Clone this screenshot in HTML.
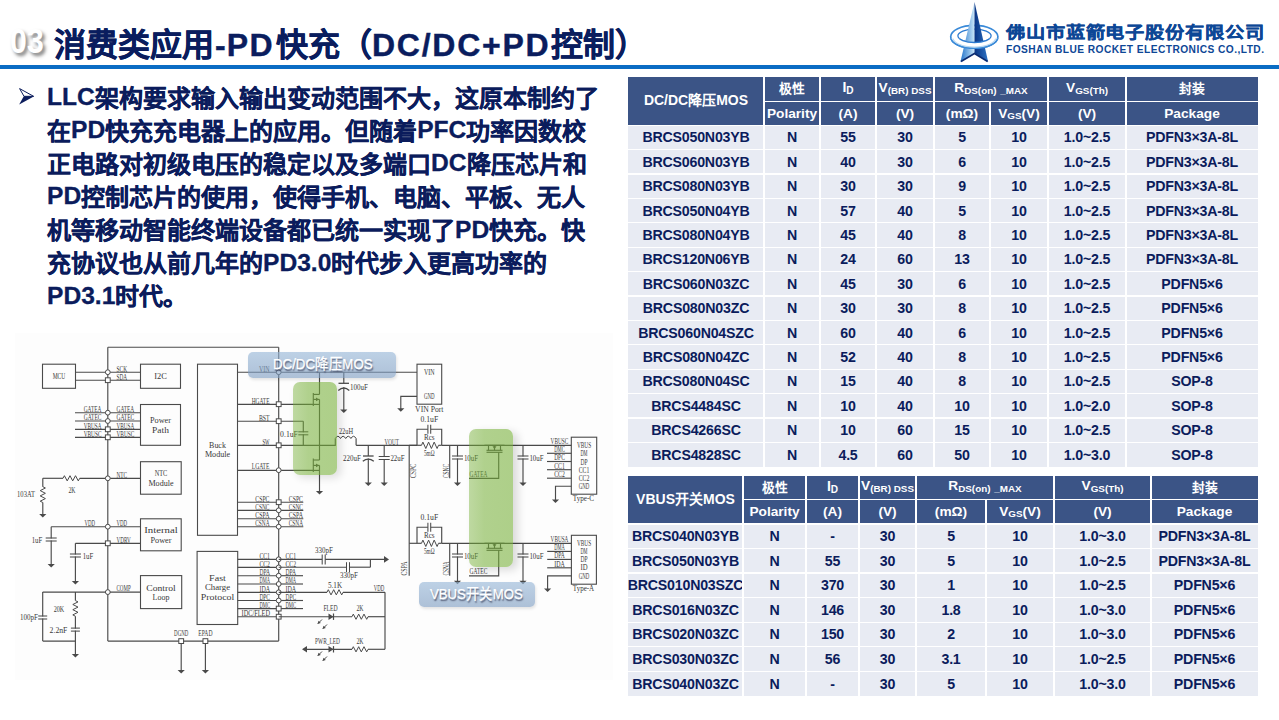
<!DOCTYPE html><html lang="zh-CN"><head><meta charset="utf-8"><style>
html,body{margin:0;padding:0;background:#fff;}
body{width:1279px;height:720px;overflow:hidden;position:relative;font-family:"Liberation Sans",sans-serif;}
.abs{position:absolute;}
.c{position:absolute;box-sizing:border-box;display:flex;align-items:center;justify-content:center;font-weight:bold;white-space:nowrap;}
.h{background:#3b5486;color:#fff;}
.d{background:#e8ebf3;color:#0b1c5c;}
.sub{font-size:0.72em;position:relative;top:0.18em;}
</style></head><body>

<div class="abs" style="left:10px;top:18.5px;font-size:35px;font-weight:bold;color:#fff;letter-spacing:0.3px;text-shadow:3px 3px 4px rgba(0,0,0,0.5);line-height:44px;transform:scaleX(0.86);transform-origin:0 0;">03</div>
<div class="abs" style="left:54.0px;top:23.5px;font-size:32px;font-weight:bold;color:#0a1d5e;line-height:42px;white-space:nowrap;-webkit-text-stroke:0.4px #0a1d5e;letter-spacing:0.00px;">消费类应用</div>
<div class="abs" style="left:215.0px;top:23.5px;font-size:32px;font-weight:bold;color:#0a1d5e;line-height:42px;white-space:nowrap;-webkit-text-stroke:0.4px #0a1d5e;letter-spacing:1.20px;">-PD</div>
<div class="abs" style="left:275.5px;top:23.5px;font-size:32px;font-weight:bold;color:#0a1d5e;line-height:42px;white-space:nowrap;-webkit-text-stroke:0.4px #0a1d5e;letter-spacing:0.00px;">快充（</div>
<div class="abs" style="left:372.0px;top:23.5px;font-size:32px;font-weight:bold;color:#0a1d5e;line-height:42px;white-space:nowrap;-webkit-text-stroke:0.4px #0a1d5e;letter-spacing:1.75px;">DC/DC+PD</div>
<div class="abs" style="left:550.5px;top:23.5px;font-size:32px;font-weight:bold;color:#0a1d5e;line-height:42px;white-space:nowrap;-webkit-text-stroke:0.4px #0a1d5e;letter-spacing:0.00px;">控制）</div>
<div class="abs" style="left:0;top:65px;width:1279px;height:3.5px;background:#0a6cc4;"></div>
<svg class="abs" style="left:0;top:0" width="1279" height="70" viewBox="0 0 1279 70">
<defs>
<linearGradient id="lg1" gradientUnits="userSpaceOnUse" x1="961" x2="974.5" y1="0" y2="0"><stop offset="0" stop-color="#2a78cc"/><stop offset="1" stop-color="#c8e6f8"/></linearGradient>
<linearGradient id="lg2" gradientUnits="userSpaceOnUse" x1="974.5" x2="988" y1="0" y2="0"><stop offset="0" stop-color="#0a3584"/><stop offset="1" stop-color="#2c72c4"/></linearGradient>
<clipPath id="lowc"><rect x="940" y="38.5" width="70" height="20"/></clipPath>
</defs>
<ellipse cx="974.3" cy="36.8" rx="23.6" ry="11.4" fill="#fff" stroke="#3a8ad8" stroke-width="1.7"/>
<ellipse cx="974.5" cy="35.8" rx="16.6" ry="6.7" fill="none" stroke="#2d7bd0" stroke-width="1.3"/>
<polygon points="974.5,2 960.4,62 974.5,53" fill="url(#lg1)"/>
<polygon points="974.5,2 988.2,62 974.5,53" fill="url(#lg2)"/>
<polyline points="961,61.5 974.5,53.5 987.6,61.5" fill="none" stroke="#0a2a70" stroke-width="1.6"/>
<g clip-path="url(#lowc)">
<path d="M950.7,36.8 a23.6,11.4 0 1 0 47.2,0 a23.6,11.4 0 1 0 -47.2,0 Z M957.9,35.8 a16.6,6.7 0 1 0 33.2,0 a16.6,6.7 0 1 0 -33.2,0 Z" fill="#fff" fill-rule="evenodd"/>
<ellipse cx="974.3" cy="36.8" rx="23.6" ry="11.4" fill="none" stroke="#3a8ad8" stroke-width="1.7"/>
<ellipse cx="974.5" cy="35.8" rx="16.6" ry="6.7" fill="none" stroke="#2d7bd0" stroke-width="1.3"/>
<ellipse cx="974.3" cy="37.5" rx="21.5" ry="9.6" fill="none" stroke="#b8d8f2" stroke-width="1.2"/>
</g>
</svg>
<div class="abs" style="left:1005.5px;top:23px;font-size:17px;font-weight:bold;color:#0d4796;letter-spacing:0.6px;line-height:22px;white-space:nowrap;transform:scale(1.13,0.92);transform-origin:0 0;-webkit-text-stroke:0.4px #0d4796;">佛山市蓝箭电子股份有限公司</div>
<div class="abs" style="left:1006px;top:44px;font-size:10.2px;font-weight:bold;color:#0d4796;letter-spacing:0.45px;line-height:12px;white-space:nowrap;">FOSHAN BLUE ROCKET ELECTRONICS CO.,LTD.</div>
<svg class="abs" style="left:0;top:80px" width="40" height="30" viewBox="0 80 40 30">
<polygon points="19.6,88.6 33.6,96.3 24,96.3" fill="none" stroke="#0b1c5c" stroke-width="1" stroke-linejoin="miter"/>
<polygon points="19.2,104.6 34.2,96.3 23.8,96.3" fill="#0b1c5c"/>
</svg>
<div class="abs" style="left:47px;top:81.5px;font-size:24px;font-weight:bold;color:#0b1c5c;line-height:33.1px;white-space:nowrap;-webkit-text-stroke:0.3px #0b1c5c;"><span style="position:relative;top:-1.3px;font-size:24.6px">LLC</span>架构要求输入输出变动范围不大，这原本制约了<br>在<span style="position:relative;top:-1.3px;font-size:24.6px">PD</span>快充充电器上的应用。但随着<span style="position:relative;top:-1.3px;font-size:24.6px">PFC</span>功率因数校<br>正电路对初级电压的稳定以及多端口<span style="position:relative;top:-1.3px;font-size:24.6px">DC</span>降压芯片和<br><span style="position:relative;top:-1.3px;font-size:24.6px">PD</span>控制芯片的使用，使得手机、电脑、平板、无人<br>机等移动智能终端设备都已统一实现了<span style="position:relative;top:-1.3px;font-size:24.6px">PD</span>快充。快<br>充协议也从前几年的<span style="position:relative;top:-1.3px;font-size:24.6px">PD3.0</span>时代步入更高功率的<br><span style="position:relative;top:-1.3px;font-size:24.6px">PD3.1</span>时代。</div>
<div class="c h" style="left:628.00px;top:77.00px;width:136.00px;height:48.20px;font-size:14.0px;"><span style="position:relative;top:-2.0px">DC/DC降压MOS</span></div>
<div class="c h" style="left:764.00px;top:77.00px;width:56.00px;height:24.30px;font-size:12.8px;"><span style="position:relative;top:-1.2px">极性</span></div>
<div class="c h" style="left:820.00px;top:77.00px;width:56.00px;height:24.30px;font-size:14.0px;"><span style="position:relative;top:-1.8px">I<span class="sub">D</span></span></div>
<div class="c h" style="left:876.00px;top:77.00px;width:58.00px;height:24.30px;font-size:13.7px;"><span style="position:relative;top:-1.8px">V<span class="sub">(BR) DSS</span></span></div>
<div class="c h" style="left:934.00px;top:77.00px;width:114.00px;height:24.30px;font-size:13.7px;"><span style="position:relative;top:-1.8px">R<span class="sub">DS(on)</span>&nbsp;<span class="sub">_MAX</span></span></div>
<div class="c h" style="left:1048.00px;top:77.00px;width:78.00px;height:24.30px;font-size:13.7px;"><span style="position:relative;top:-1.8px">V<span class="sub">GS(Th)</span></span></div>
<div class="c h" style="left:1126.00px;top:77.00px;width:132.00px;height:24.30px;font-size:12.8px;"><span style="position:relative;top:-1.2px">封装</span></div>
<div class="c h" style="left:764.00px;top:101.30px;width:56.00px;height:23.90px;font-size:13.7px;">Polarity</div>
<div class="c h" style="left:820.00px;top:101.30px;width:56.00px;height:23.90px;font-size:13.7px;">(A)</div>
<div class="c h" style="left:876.00px;top:101.30px;width:58.00px;height:23.90px;font-size:13.7px;">(V)</div>
<div class="c h" style="left:934.00px;top:101.30px;width:56.00px;height:23.90px;font-size:13.7px;">(mΩ)</div>
<div class="c h" style="left:990.00px;top:101.30px;width:58.00px;height:23.90px;font-size:13.7px;">V<span class="sub">GS</span>(V)</div>
<div class="c h" style="left:1048.00px;top:101.30px;width:78.00px;height:23.90px;font-size:13.7px;">(V)</div>
<div class="c h" style="left:1126.00px;top:101.30px;width:132.00px;height:23.90px;font-size:13.7px;">Package</div>
<div class="c d" style="left:628.00px;top:125.20px;width:136.00px;height:24.40px;font-size:14.2px;letter-spacing:-0.2px;">BRCS050N03YB</div>
<div class="c d" style="left:764.00px;top:125.20px;width:56.00px;height:24.40px;font-size:14.2px;letter-spacing:-0.2px;">N</div>
<div class="c d" style="left:820.00px;top:125.20px;width:56.00px;height:24.40px;font-size:14.2px;letter-spacing:-0.2px;">55</div>
<div class="c d" style="left:876.00px;top:125.20px;width:58.00px;height:24.40px;font-size:14.2px;letter-spacing:-0.2px;">30</div>
<div class="c d" style="left:934.00px;top:125.20px;width:56.00px;height:24.40px;font-size:14.2px;letter-spacing:-0.2px;">5</div>
<div class="c d" style="left:990.00px;top:125.20px;width:58.00px;height:24.40px;font-size:14.2px;letter-spacing:-0.2px;">10</div>
<div class="c d" style="left:1048.00px;top:125.20px;width:78.00px;height:24.40px;font-size:14.2px;letter-spacing:-0.2px;">1.0~2.5</div>
<div class="c d" style="left:1126.00px;top:125.20px;width:132.00px;height:24.40px;font-size:14.2px;letter-spacing:-0.2px;">PDFN3×3A-8L</div>
<div class="c d" style="left:628.00px;top:149.60px;width:136.00px;height:24.40px;font-size:14.2px;letter-spacing:-0.2px;">BRCS060N03YB</div>
<div class="c d" style="left:764.00px;top:149.60px;width:56.00px;height:24.40px;font-size:14.2px;letter-spacing:-0.2px;">N</div>
<div class="c d" style="left:820.00px;top:149.60px;width:56.00px;height:24.40px;font-size:14.2px;letter-spacing:-0.2px;">40</div>
<div class="c d" style="left:876.00px;top:149.60px;width:58.00px;height:24.40px;font-size:14.2px;letter-spacing:-0.2px;">30</div>
<div class="c d" style="left:934.00px;top:149.60px;width:56.00px;height:24.40px;font-size:14.2px;letter-spacing:-0.2px;">6</div>
<div class="c d" style="left:990.00px;top:149.60px;width:58.00px;height:24.40px;font-size:14.2px;letter-spacing:-0.2px;">10</div>
<div class="c d" style="left:1048.00px;top:149.60px;width:78.00px;height:24.40px;font-size:14.2px;letter-spacing:-0.2px;">1.0~2.5</div>
<div class="c d" style="left:1126.00px;top:149.60px;width:132.00px;height:24.40px;font-size:14.2px;letter-spacing:-0.2px;">PDFN3×3A-8L</div>
<div class="c d" style="left:628.00px;top:174.00px;width:136.00px;height:24.40px;font-size:14.2px;letter-spacing:-0.2px;">BRCS080N03YB</div>
<div class="c d" style="left:764.00px;top:174.00px;width:56.00px;height:24.40px;font-size:14.2px;letter-spacing:-0.2px;">N</div>
<div class="c d" style="left:820.00px;top:174.00px;width:56.00px;height:24.40px;font-size:14.2px;letter-spacing:-0.2px;">30</div>
<div class="c d" style="left:876.00px;top:174.00px;width:58.00px;height:24.40px;font-size:14.2px;letter-spacing:-0.2px;">30</div>
<div class="c d" style="left:934.00px;top:174.00px;width:56.00px;height:24.40px;font-size:14.2px;letter-spacing:-0.2px;">9</div>
<div class="c d" style="left:990.00px;top:174.00px;width:58.00px;height:24.40px;font-size:14.2px;letter-spacing:-0.2px;">10</div>
<div class="c d" style="left:1048.00px;top:174.00px;width:78.00px;height:24.40px;font-size:14.2px;letter-spacing:-0.2px;">1.0~2.5</div>
<div class="c d" style="left:1126.00px;top:174.00px;width:132.00px;height:24.40px;font-size:14.2px;letter-spacing:-0.2px;">PDFN3×3A-8L</div>
<div class="c d" style="left:628.00px;top:198.40px;width:136.00px;height:24.40px;font-size:14.2px;letter-spacing:-0.2px;">BRCS050N04YB</div>
<div class="c d" style="left:764.00px;top:198.40px;width:56.00px;height:24.40px;font-size:14.2px;letter-spacing:-0.2px;">N</div>
<div class="c d" style="left:820.00px;top:198.40px;width:56.00px;height:24.40px;font-size:14.2px;letter-spacing:-0.2px;">57</div>
<div class="c d" style="left:876.00px;top:198.40px;width:58.00px;height:24.40px;font-size:14.2px;letter-spacing:-0.2px;">40</div>
<div class="c d" style="left:934.00px;top:198.40px;width:56.00px;height:24.40px;font-size:14.2px;letter-spacing:-0.2px;">5</div>
<div class="c d" style="left:990.00px;top:198.40px;width:58.00px;height:24.40px;font-size:14.2px;letter-spacing:-0.2px;">10</div>
<div class="c d" style="left:1048.00px;top:198.40px;width:78.00px;height:24.40px;font-size:14.2px;letter-spacing:-0.2px;">1.0~2.5</div>
<div class="c d" style="left:1126.00px;top:198.40px;width:132.00px;height:24.40px;font-size:14.2px;letter-spacing:-0.2px;">PDFN3×3A-8L</div>
<div class="c d" style="left:628.00px;top:222.80px;width:136.00px;height:24.40px;font-size:14.2px;letter-spacing:-0.2px;">BRCS080N04YB</div>
<div class="c d" style="left:764.00px;top:222.80px;width:56.00px;height:24.40px;font-size:14.2px;letter-spacing:-0.2px;">N</div>
<div class="c d" style="left:820.00px;top:222.80px;width:56.00px;height:24.40px;font-size:14.2px;letter-spacing:-0.2px;">45</div>
<div class="c d" style="left:876.00px;top:222.80px;width:58.00px;height:24.40px;font-size:14.2px;letter-spacing:-0.2px;">40</div>
<div class="c d" style="left:934.00px;top:222.80px;width:56.00px;height:24.40px;font-size:14.2px;letter-spacing:-0.2px;">8</div>
<div class="c d" style="left:990.00px;top:222.80px;width:58.00px;height:24.40px;font-size:14.2px;letter-spacing:-0.2px;">10</div>
<div class="c d" style="left:1048.00px;top:222.80px;width:78.00px;height:24.40px;font-size:14.2px;letter-spacing:-0.2px;">1.0~2.5</div>
<div class="c d" style="left:1126.00px;top:222.80px;width:132.00px;height:24.40px;font-size:14.2px;letter-spacing:-0.2px;">PDFN3×3A-8L</div>
<div class="c d" style="left:628.00px;top:247.20px;width:136.00px;height:24.40px;font-size:14.2px;letter-spacing:-0.2px;">BRCS120N06YB</div>
<div class="c d" style="left:764.00px;top:247.20px;width:56.00px;height:24.40px;font-size:14.2px;letter-spacing:-0.2px;">N</div>
<div class="c d" style="left:820.00px;top:247.20px;width:56.00px;height:24.40px;font-size:14.2px;letter-spacing:-0.2px;">24</div>
<div class="c d" style="left:876.00px;top:247.20px;width:58.00px;height:24.40px;font-size:14.2px;letter-spacing:-0.2px;">60</div>
<div class="c d" style="left:934.00px;top:247.20px;width:56.00px;height:24.40px;font-size:14.2px;letter-spacing:-0.2px;">13</div>
<div class="c d" style="left:990.00px;top:247.20px;width:58.00px;height:24.40px;font-size:14.2px;letter-spacing:-0.2px;">10</div>
<div class="c d" style="left:1048.00px;top:247.20px;width:78.00px;height:24.40px;font-size:14.2px;letter-spacing:-0.2px;">1.0~2.5</div>
<div class="c d" style="left:1126.00px;top:247.20px;width:132.00px;height:24.40px;font-size:14.2px;letter-spacing:-0.2px;">PDFN3×3A-8L</div>
<div class="c d" style="left:628.00px;top:271.60px;width:136.00px;height:24.40px;font-size:14.2px;letter-spacing:-0.2px;">BRCS060N03ZC</div>
<div class="c d" style="left:764.00px;top:271.60px;width:56.00px;height:24.40px;font-size:14.2px;letter-spacing:-0.2px;">N</div>
<div class="c d" style="left:820.00px;top:271.60px;width:56.00px;height:24.40px;font-size:14.2px;letter-spacing:-0.2px;">45</div>
<div class="c d" style="left:876.00px;top:271.60px;width:58.00px;height:24.40px;font-size:14.2px;letter-spacing:-0.2px;">30</div>
<div class="c d" style="left:934.00px;top:271.60px;width:56.00px;height:24.40px;font-size:14.2px;letter-spacing:-0.2px;">6</div>
<div class="c d" style="left:990.00px;top:271.60px;width:58.00px;height:24.40px;font-size:14.2px;letter-spacing:-0.2px;">10</div>
<div class="c d" style="left:1048.00px;top:271.60px;width:78.00px;height:24.40px;font-size:14.2px;letter-spacing:-0.2px;">1.0~2.5</div>
<div class="c d" style="left:1126.00px;top:271.60px;width:132.00px;height:24.40px;font-size:14.2px;letter-spacing:-0.2px;">PDFN5×6</div>
<div class="c d" style="left:628.00px;top:296.00px;width:136.00px;height:24.40px;font-size:14.2px;letter-spacing:-0.2px;">BRCS080N03ZC</div>
<div class="c d" style="left:764.00px;top:296.00px;width:56.00px;height:24.40px;font-size:14.2px;letter-spacing:-0.2px;">N</div>
<div class="c d" style="left:820.00px;top:296.00px;width:56.00px;height:24.40px;font-size:14.2px;letter-spacing:-0.2px;">30</div>
<div class="c d" style="left:876.00px;top:296.00px;width:58.00px;height:24.40px;font-size:14.2px;letter-spacing:-0.2px;">30</div>
<div class="c d" style="left:934.00px;top:296.00px;width:56.00px;height:24.40px;font-size:14.2px;letter-spacing:-0.2px;">8</div>
<div class="c d" style="left:990.00px;top:296.00px;width:58.00px;height:24.40px;font-size:14.2px;letter-spacing:-0.2px;">10</div>
<div class="c d" style="left:1048.00px;top:296.00px;width:78.00px;height:24.40px;font-size:14.2px;letter-spacing:-0.2px;">1.0~2.5</div>
<div class="c d" style="left:1126.00px;top:296.00px;width:132.00px;height:24.40px;font-size:14.2px;letter-spacing:-0.2px;">PDFN5×6</div>
<div class="c d" style="left:628.00px;top:320.40px;width:136.00px;height:24.40px;font-size:14.2px;letter-spacing:-0.2px;">BRCS060N04SZC</div>
<div class="c d" style="left:764.00px;top:320.40px;width:56.00px;height:24.40px;font-size:14.2px;letter-spacing:-0.2px;">N</div>
<div class="c d" style="left:820.00px;top:320.40px;width:56.00px;height:24.40px;font-size:14.2px;letter-spacing:-0.2px;">60</div>
<div class="c d" style="left:876.00px;top:320.40px;width:58.00px;height:24.40px;font-size:14.2px;letter-spacing:-0.2px;">40</div>
<div class="c d" style="left:934.00px;top:320.40px;width:56.00px;height:24.40px;font-size:14.2px;letter-spacing:-0.2px;">6</div>
<div class="c d" style="left:990.00px;top:320.40px;width:58.00px;height:24.40px;font-size:14.2px;letter-spacing:-0.2px;">10</div>
<div class="c d" style="left:1048.00px;top:320.40px;width:78.00px;height:24.40px;font-size:14.2px;letter-spacing:-0.2px;">1.0~2.5</div>
<div class="c d" style="left:1126.00px;top:320.40px;width:132.00px;height:24.40px;font-size:14.2px;letter-spacing:-0.2px;">PDFN5×6</div>
<div class="c d" style="left:628.00px;top:344.80px;width:136.00px;height:24.40px;font-size:14.2px;letter-spacing:-0.2px;">BRCS080N04ZC</div>
<div class="c d" style="left:764.00px;top:344.80px;width:56.00px;height:24.40px;font-size:14.2px;letter-spacing:-0.2px;">N</div>
<div class="c d" style="left:820.00px;top:344.80px;width:56.00px;height:24.40px;font-size:14.2px;letter-spacing:-0.2px;">52</div>
<div class="c d" style="left:876.00px;top:344.80px;width:58.00px;height:24.40px;font-size:14.2px;letter-spacing:-0.2px;">40</div>
<div class="c d" style="left:934.00px;top:344.80px;width:56.00px;height:24.40px;font-size:14.2px;letter-spacing:-0.2px;">8</div>
<div class="c d" style="left:990.00px;top:344.80px;width:58.00px;height:24.40px;font-size:14.2px;letter-spacing:-0.2px;">10</div>
<div class="c d" style="left:1048.00px;top:344.80px;width:78.00px;height:24.40px;font-size:14.2px;letter-spacing:-0.2px;">1.0~2.5</div>
<div class="c d" style="left:1126.00px;top:344.80px;width:132.00px;height:24.40px;font-size:14.2px;letter-spacing:-0.2px;">PDFN5×6</div>
<div class="c d" style="left:628.00px;top:369.20px;width:136.00px;height:24.40px;font-size:14.2px;letter-spacing:-0.2px;">BRCS080N04SC</div>
<div class="c d" style="left:764.00px;top:369.20px;width:56.00px;height:24.40px;font-size:14.2px;letter-spacing:-0.2px;">N</div>
<div class="c d" style="left:820.00px;top:369.20px;width:56.00px;height:24.40px;font-size:14.2px;letter-spacing:-0.2px;">15</div>
<div class="c d" style="left:876.00px;top:369.20px;width:58.00px;height:24.40px;font-size:14.2px;letter-spacing:-0.2px;">40</div>
<div class="c d" style="left:934.00px;top:369.20px;width:56.00px;height:24.40px;font-size:14.2px;letter-spacing:-0.2px;">8</div>
<div class="c d" style="left:990.00px;top:369.20px;width:58.00px;height:24.40px;font-size:14.2px;letter-spacing:-0.2px;">10</div>
<div class="c d" style="left:1048.00px;top:369.20px;width:78.00px;height:24.40px;font-size:14.2px;letter-spacing:-0.2px;">1.0~2.5</div>
<div class="c d" style="left:1126.00px;top:369.20px;width:132.00px;height:24.40px;font-size:14.2px;letter-spacing:-0.2px;">SOP-8</div>
<div class="c d" style="left:628.00px;top:393.60px;width:136.00px;height:24.40px;font-size:14.2px;letter-spacing:-0.2px;">BRCS4484SC</div>
<div class="c d" style="left:764.00px;top:393.60px;width:56.00px;height:24.40px;font-size:14.2px;letter-spacing:-0.2px;">N</div>
<div class="c d" style="left:820.00px;top:393.60px;width:56.00px;height:24.40px;font-size:14.2px;letter-spacing:-0.2px;">10</div>
<div class="c d" style="left:876.00px;top:393.60px;width:58.00px;height:24.40px;font-size:14.2px;letter-spacing:-0.2px;">40</div>
<div class="c d" style="left:934.00px;top:393.60px;width:56.00px;height:24.40px;font-size:14.2px;letter-spacing:-0.2px;">10</div>
<div class="c d" style="left:990.00px;top:393.60px;width:58.00px;height:24.40px;font-size:14.2px;letter-spacing:-0.2px;">10</div>
<div class="c d" style="left:1048.00px;top:393.60px;width:78.00px;height:24.40px;font-size:14.2px;letter-spacing:-0.2px;">1.0~2.0</div>
<div class="c d" style="left:1126.00px;top:393.60px;width:132.00px;height:24.40px;font-size:14.2px;letter-spacing:-0.2px;">SOP-8</div>
<div class="c d" style="left:628.00px;top:418.00px;width:136.00px;height:24.40px;font-size:14.2px;letter-spacing:-0.2px;">BRCS4266SC</div>
<div class="c d" style="left:764.00px;top:418.00px;width:56.00px;height:24.40px;font-size:14.2px;letter-spacing:-0.2px;">N</div>
<div class="c d" style="left:820.00px;top:418.00px;width:56.00px;height:24.40px;font-size:14.2px;letter-spacing:-0.2px;">10</div>
<div class="c d" style="left:876.00px;top:418.00px;width:58.00px;height:24.40px;font-size:14.2px;letter-spacing:-0.2px;">60</div>
<div class="c d" style="left:934.00px;top:418.00px;width:56.00px;height:24.40px;font-size:14.2px;letter-spacing:-0.2px;">15</div>
<div class="c d" style="left:990.00px;top:418.00px;width:58.00px;height:24.40px;font-size:14.2px;letter-spacing:-0.2px;">10</div>
<div class="c d" style="left:1048.00px;top:418.00px;width:78.00px;height:24.40px;font-size:14.2px;letter-spacing:-0.2px;">1.0~2.5</div>
<div class="c d" style="left:1126.00px;top:418.00px;width:132.00px;height:24.40px;font-size:14.2px;letter-spacing:-0.2px;">SOP-8</div>
<div class="c d" style="left:628.00px;top:442.40px;width:136.00px;height:24.40px;font-size:14.2px;letter-spacing:-0.2px;">BRCS4828SC</div>
<div class="c d" style="left:764.00px;top:442.40px;width:56.00px;height:24.40px;font-size:14.2px;letter-spacing:-0.2px;">N</div>
<div class="c d" style="left:820.00px;top:442.40px;width:56.00px;height:24.40px;font-size:14.2px;letter-spacing:-0.2px;">4.5</div>
<div class="c d" style="left:876.00px;top:442.40px;width:58.00px;height:24.40px;font-size:14.2px;letter-spacing:-0.2px;">60</div>
<div class="c d" style="left:934.00px;top:442.40px;width:56.00px;height:24.40px;font-size:14.2px;letter-spacing:-0.2px;">50</div>
<div class="c d" style="left:990.00px;top:442.40px;width:58.00px;height:24.40px;font-size:14.2px;letter-spacing:-0.2px;">10</div>
<div class="c d" style="left:1048.00px;top:442.40px;width:78.00px;height:24.40px;font-size:14.2px;letter-spacing:-0.2px;">1.0~3.0</div>
<div class="c d" style="left:1126.00px;top:442.40px;width:132.00px;height:24.40px;font-size:14.2px;letter-spacing:-0.2px;">SOP-8</div>
<div class="abs" style="left:764.00px;top:100.65px;width:494.00px;height:1.30px;background:#fff;"></div>
<div class="abs" style="left:628.00px;top:124.55px;width:630.00px;height:1.30px;background:#fff;"></div>
<div class="abs" style="left:628.00px;top:148.95px;width:630.00px;height:1.30px;background:#fff;"></div>
<div class="abs" style="left:628.00px;top:173.35px;width:630.00px;height:1.30px;background:#fff;"></div>
<div class="abs" style="left:628.00px;top:197.75px;width:630.00px;height:1.30px;background:#fff;"></div>
<div class="abs" style="left:628.00px;top:222.15px;width:630.00px;height:1.30px;background:#fff;"></div>
<div class="abs" style="left:628.00px;top:246.55px;width:630.00px;height:1.30px;background:#fff;"></div>
<div class="abs" style="left:628.00px;top:270.95px;width:630.00px;height:1.30px;background:#fff;"></div>
<div class="abs" style="left:628.00px;top:295.35px;width:630.00px;height:1.30px;background:#fff;"></div>
<div class="abs" style="left:628.00px;top:319.75px;width:630.00px;height:1.30px;background:#fff;"></div>
<div class="abs" style="left:628.00px;top:344.15px;width:630.00px;height:1.30px;background:#fff;"></div>
<div class="abs" style="left:628.00px;top:368.55px;width:630.00px;height:1.30px;background:#fff;"></div>
<div class="abs" style="left:628.00px;top:392.95px;width:630.00px;height:1.30px;background:#fff;"></div>
<div class="abs" style="left:628.00px;top:417.35px;width:630.00px;height:1.30px;background:#fff;"></div>
<div class="abs" style="left:628.00px;top:441.75px;width:630.00px;height:1.30px;background:#fff;"></div>
<div class="abs" style="left:763.35px;top:77.00px;width:1.30px;height:389.80px;background:#fff;"></div>
<div class="abs" style="left:819.35px;top:77.00px;width:1.30px;height:389.80px;background:#fff;"></div>
<div class="abs" style="left:875.35px;top:77.00px;width:1.30px;height:389.80px;background:#fff;"></div>
<div class="abs" style="left:933.35px;top:77.00px;width:1.30px;height:389.80px;background:#fff;"></div>
<div class="abs" style="left:989.35px;top:101.30px;width:1.30px;height:365.50px;background:#fff;"></div>
<div class="abs" style="left:1047.35px;top:77.00px;width:1.30px;height:389.80px;background:#fff;"></div>
<div class="abs" style="left:1125.35px;top:77.00px;width:1.30px;height:389.80px;background:#fff;"></div>
<div class="c h" style="left:628.00px;top:476.10px;width:115.00px;height:47.80px;font-size:14.0px;"><span style="position:relative;top:-2.0px">VBUS开关MOS</span></div>
<div class="c h" style="left:743.00px;top:476.10px;width:63.00px;height:23.20px;font-size:12.8px;"><span style="position:relative;top:-1.2px">极性</span></div>
<div class="c h" style="left:806.00px;top:476.10px;width:53.00px;height:23.20px;font-size:14.0px;"><span style="position:relative;top:-1.8px">I<span class="sub">D</span></span></div>
<div class="c h" style="left:859.00px;top:476.10px;width:57.00px;height:23.20px;font-size:13.7px;"><span style="position:relative;top:-1.8px">V<span class="sub">(BR) DSS</span></span></div>
<div class="c h" style="left:916.00px;top:476.10px;width:138.00px;height:23.20px;font-size:13.7px;"><span style="position:relative;top:-1.8px">R<span class="sub">DS(on)</span>&nbsp;<span class="sub">_MAX</span></span></div>
<div class="c h" style="left:1054.00px;top:476.10px;width:97.00px;height:23.20px;font-size:13.7px;"><span style="position:relative;top:-1.8px">V<span class="sub">GS(Th)</span></span></div>
<div class="c h" style="left:1151.00px;top:476.10px;width:107.00px;height:23.20px;font-size:12.8px;"><span style="position:relative;top:-1.2px">封装</span></div>
<div class="c h" style="left:743.00px;top:499.30px;width:63.00px;height:24.60px;font-size:13.7px;">Polarity</div>
<div class="c h" style="left:806.00px;top:499.30px;width:53.00px;height:24.60px;font-size:13.7px;">(A)</div>
<div class="c h" style="left:859.00px;top:499.30px;width:57.00px;height:24.60px;font-size:13.7px;">(V)</div>
<div class="c h" style="left:916.00px;top:499.30px;width:70.00px;height:24.60px;font-size:13.7px;">(mΩ)</div>
<div class="c h" style="left:986.00px;top:499.30px;width:68.00px;height:24.60px;font-size:13.7px;">V<span class="sub">GS</span>(V)</div>
<div class="c h" style="left:1054.00px;top:499.30px;width:97.00px;height:24.60px;font-size:13.7px;">(V)</div>
<div class="c h" style="left:1151.00px;top:499.30px;width:107.00px;height:24.60px;font-size:13.7px;">Package</div>
<div class="c d" style="left:628.00px;top:523.90px;width:115.00px;height:24.57px;font-size:14.2px;letter-spacing:-0.2px;">BRCS040N03YB</div>
<div class="c d" style="left:743.00px;top:523.90px;width:63.00px;height:24.57px;font-size:14.2px;letter-spacing:-0.2px;">N</div>
<div class="c d" style="left:806.00px;top:523.90px;width:53.00px;height:24.57px;font-size:14.2px;letter-spacing:-0.2px;">-</div>
<div class="c d" style="left:859.00px;top:523.90px;width:57.00px;height:24.57px;font-size:14.2px;letter-spacing:-0.2px;">30</div>
<div class="c d" style="left:916.00px;top:523.90px;width:70.00px;height:24.57px;font-size:14.2px;letter-spacing:-0.2px;">5</div>
<div class="c d" style="left:986.00px;top:523.90px;width:68.00px;height:24.57px;font-size:14.2px;letter-spacing:-0.2px;">10</div>
<div class="c d" style="left:1054.00px;top:523.90px;width:97.00px;height:24.57px;font-size:14.2px;letter-spacing:-0.2px;">1.0~3.0</div>
<div class="c d" style="left:1151.00px;top:523.90px;width:107.00px;height:24.57px;font-size:14.2px;letter-spacing:-0.2px;">PDFN3×3A-8L</div>
<div class="c d" style="left:628.00px;top:548.47px;width:115.00px;height:24.57px;font-size:14.2px;letter-spacing:-0.2px;">BRCS050N03YB</div>
<div class="c d" style="left:743.00px;top:548.47px;width:63.00px;height:24.57px;font-size:14.2px;letter-spacing:-0.2px;">N</div>
<div class="c d" style="left:806.00px;top:548.47px;width:53.00px;height:24.57px;font-size:14.2px;letter-spacing:-0.2px;">55</div>
<div class="c d" style="left:859.00px;top:548.47px;width:57.00px;height:24.57px;font-size:14.2px;letter-spacing:-0.2px;">30</div>
<div class="c d" style="left:916.00px;top:548.47px;width:70.00px;height:24.57px;font-size:14.2px;letter-spacing:-0.2px;">5</div>
<div class="c d" style="left:986.00px;top:548.47px;width:68.00px;height:24.57px;font-size:14.2px;letter-spacing:-0.2px;">10</div>
<div class="c d" style="left:1054.00px;top:548.47px;width:97.00px;height:24.57px;font-size:14.2px;letter-spacing:-0.2px;">1.0~2.5</div>
<div class="c d" style="left:1151.00px;top:548.47px;width:107.00px;height:24.57px;font-size:14.2px;letter-spacing:-0.2px;">PDFN3×3A-8L</div>
<div class="c d" style="left:628.00px;top:573.04px;width:115.00px;height:24.57px;font-size:14.2px;letter-spacing:-0.2px;">BRCS010N03SZC</div>
<div class="c d" style="left:743.00px;top:573.04px;width:63.00px;height:24.57px;font-size:14.2px;letter-spacing:-0.2px;">N</div>
<div class="c d" style="left:806.00px;top:573.04px;width:53.00px;height:24.57px;font-size:14.2px;letter-spacing:-0.2px;">370</div>
<div class="c d" style="left:859.00px;top:573.04px;width:57.00px;height:24.57px;font-size:14.2px;letter-spacing:-0.2px;">30</div>
<div class="c d" style="left:916.00px;top:573.04px;width:70.00px;height:24.57px;font-size:14.2px;letter-spacing:-0.2px;">1</div>
<div class="c d" style="left:986.00px;top:573.04px;width:68.00px;height:24.57px;font-size:14.2px;letter-spacing:-0.2px;">10</div>
<div class="c d" style="left:1054.00px;top:573.04px;width:97.00px;height:24.57px;font-size:14.2px;letter-spacing:-0.2px;">1.0~2.5</div>
<div class="c d" style="left:1151.00px;top:573.04px;width:107.00px;height:24.57px;font-size:14.2px;letter-spacing:-0.2px;">PDFN5×6</div>
<div class="c d" style="left:628.00px;top:597.61px;width:115.00px;height:24.57px;font-size:14.2px;letter-spacing:-0.2px;">BRCS016N03ZC</div>
<div class="c d" style="left:743.00px;top:597.61px;width:63.00px;height:24.57px;font-size:14.2px;letter-spacing:-0.2px;">N</div>
<div class="c d" style="left:806.00px;top:597.61px;width:53.00px;height:24.57px;font-size:14.2px;letter-spacing:-0.2px;">146</div>
<div class="c d" style="left:859.00px;top:597.61px;width:57.00px;height:24.57px;font-size:14.2px;letter-spacing:-0.2px;">30</div>
<div class="c d" style="left:916.00px;top:597.61px;width:70.00px;height:24.57px;font-size:14.2px;letter-spacing:-0.2px;">1.8</div>
<div class="c d" style="left:986.00px;top:597.61px;width:68.00px;height:24.57px;font-size:14.2px;letter-spacing:-0.2px;">10</div>
<div class="c d" style="left:1054.00px;top:597.61px;width:97.00px;height:24.57px;font-size:14.2px;letter-spacing:-0.2px;">1.0~3.0</div>
<div class="c d" style="left:1151.00px;top:597.61px;width:107.00px;height:24.57px;font-size:14.2px;letter-spacing:-0.2px;">PDFN5×6</div>
<div class="c d" style="left:628.00px;top:622.18px;width:115.00px;height:24.57px;font-size:14.2px;letter-spacing:-0.2px;">BRCS020N03ZC</div>
<div class="c d" style="left:743.00px;top:622.18px;width:63.00px;height:24.57px;font-size:14.2px;letter-spacing:-0.2px;">N</div>
<div class="c d" style="left:806.00px;top:622.18px;width:53.00px;height:24.57px;font-size:14.2px;letter-spacing:-0.2px;">150</div>
<div class="c d" style="left:859.00px;top:622.18px;width:57.00px;height:24.57px;font-size:14.2px;letter-spacing:-0.2px;">30</div>
<div class="c d" style="left:916.00px;top:622.18px;width:70.00px;height:24.57px;font-size:14.2px;letter-spacing:-0.2px;">2</div>
<div class="c d" style="left:986.00px;top:622.18px;width:68.00px;height:24.57px;font-size:14.2px;letter-spacing:-0.2px;">10</div>
<div class="c d" style="left:1054.00px;top:622.18px;width:97.00px;height:24.57px;font-size:14.2px;letter-spacing:-0.2px;">1.0~3.0</div>
<div class="c d" style="left:1151.00px;top:622.18px;width:107.00px;height:24.57px;font-size:14.2px;letter-spacing:-0.2px;">PDFN5×6</div>
<div class="c d" style="left:628.00px;top:646.75px;width:115.00px;height:24.57px;font-size:14.2px;letter-spacing:-0.2px;">BRCS030N03ZC</div>
<div class="c d" style="left:743.00px;top:646.75px;width:63.00px;height:24.57px;font-size:14.2px;letter-spacing:-0.2px;">N</div>
<div class="c d" style="left:806.00px;top:646.75px;width:53.00px;height:24.57px;font-size:14.2px;letter-spacing:-0.2px;">56</div>
<div class="c d" style="left:859.00px;top:646.75px;width:57.00px;height:24.57px;font-size:14.2px;letter-spacing:-0.2px;">30</div>
<div class="c d" style="left:916.00px;top:646.75px;width:70.00px;height:24.57px;font-size:14.2px;letter-spacing:-0.2px;">3.1</div>
<div class="c d" style="left:986.00px;top:646.75px;width:68.00px;height:24.57px;font-size:14.2px;letter-spacing:-0.2px;">10</div>
<div class="c d" style="left:1054.00px;top:646.75px;width:97.00px;height:24.57px;font-size:14.2px;letter-spacing:-0.2px;">1.0~2.5</div>
<div class="c d" style="left:1151.00px;top:646.75px;width:107.00px;height:24.57px;font-size:14.2px;letter-spacing:-0.2px;">PDFN5×6</div>
<div class="c d" style="left:628.00px;top:671.32px;width:115.00px;height:24.57px;font-size:14.2px;letter-spacing:-0.2px;">BRCS040N03ZC</div>
<div class="c d" style="left:743.00px;top:671.32px;width:63.00px;height:24.57px;font-size:14.2px;letter-spacing:-0.2px;">N</div>
<div class="c d" style="left:806.00px;top:671.32px;width:53.00px;height:24.57px;font-size:14.2px;letter-spacing:-0.2px;">-</div>
<div class="c d" style="left:859.00px;top:671.32px;width:57.00px;height:24.57px;font-size:14.2px;letter-spacing:-0.2px;">30</div>
<div class="c d" style="left:916.00px;top:671.32px;width:70.00px;height:24.57px;font-size:14.2px;letter-spacing:-0.2px;">5</div>
<div class="c d" style="left:986.00px;top:671.32px;width:68.00px;height:24.57px;font-size:14.2px;letter-spacing:-0.2px;">10</div>
<div class="c d" style="left:1054.00px;top:671.32px;width:97.00px;height:24.57px;font-size:14.2px;letter-spacing:-0.2px;">1.0~3.0</div>
<div class="c d" style="left:1151.00px;top:671.32px;width:107.00px;height:24.57px;font-size:14.2px;letter-spacing:-0.2px;">PDFN5×6</div>
<div class="abs" style="left:743.00px;top:498.65px;width:515.00px;height:1.30px;background:#fff;"></div>
<div class="abs" style="left:628.00px;top:523.25px;width:630.00px;height:1.30px;background:#fff;"></div>
<div class="abs" style="left:628.00px;top:547.82px;width:630.00px;height:1.30px;background:#fff;"></div>
<div class="abs" style="left:628.00px;top:572.39px;width:630.00px;height:1.30px;background:#fff;"></div>
<div class="abs" style="left:628.00px;top:596.96px;width:630.00px;height:1.30px;background:#fff;"></div>
<div class="abs" style="left:628.00px;top:621.53px;width:630.00px;height:1.30px;background:#fff;"></div>
<div class="abs" style="left:628.00px;top:646.10px;width:630.00px;height:1.30px;background:#fff;"></div>
<div class="abs" style="left:628.00px;top:670.67px;width:630.00px;height:1.30px;background:#fff;"></div>
<div class="abs" style="left:742.35px;top:476.10px;width:1.30px;height:219.79px;background:#fff;"></div>
<div class="abs" style="left:805.35px;top:476.10px;width:1.30px;height:219.79px;background:#fff;"></div>
<div class="abs" style="left:858.35px;top:476.10px;width:1.30px;height:219.79px;background:#fff;"></div>
<div class="abs" style="left:915.35px;top:476.10px;width:1.30px;height:219.79px;background:#fff;"></div>
<div class="abs" style="left:985.35px;top:499.30px;width:1.30px;height:196.59px;background:#fff;"></div>
<div class="abs" style="left:1053.35px;top:476.10px;width:1.30px;height:219.79px;background:#fff;"></div>
<div class="abs" style="left:1150.35px;top:476.10px;width:1.30px;height:219.79px;background:#fff;"></div>
<svg class="abs" style="left:0;top:0;font-family:'Liberation Serif',serif" width="640" height="720" viewBox="0 0 640 720"><rect x="15" y="333" width="598" height="347" fill="#fdfdfd"/>
<line x1="107.8" y1="347.2" x2="107.8" y2="641.1" stroke="#4a4a4a" stroke-width="1.15"/>
<line x1="107.8" y1="347.2" x2="278.7" y2="347.2" stroke="#4a4a4a" stroke-width="1.15"/>
<line x1="278.7" y1="347.2" x2="278.7" y2="641.1" stroke="#4a4a4a" stroke-width="1.15"/>
<line x1="107.8" y1="641.1" x2="278.7" y2="641.1" stroke="#4a4a4a" stroke-width="1.15"/>
<rect x="42.5" y="364.2" width="33.0" height="24.1" fill="none" stroke="#4a4a4a" stroke-width="1.10"/>
<text x="59.0" y="379.1" font-size="8.2" text-anchor="middle" fill="#383838" textLength="12.6" lengthAdjust="spacingAndGlyphs">MCU</text>
<rect x="140.5" y="364.2" width="40.0" height="24.1" fill="none" stroke="#4a4a4a" stroke-width="1.10"/>
<text x="160.5" y="379.1" font-size="8.2" text-anchor="middle" fill="#383838" textLength="12.6" lengthAdjust="spacingAndGlyphs">I2C</text>
<rect x="140.5" y="404.5" width="40.0" height="40.8" fill="none" stroke="#4a4a4a" stroke-width="1.10"/>
<text x="160.5" y="422.9" font-size="8.2" text-anchor="middle" fill="#383838" textLength="21.0" lengthAdjust="spacingAndGlyphs">Power</text>
<text x="160.5" y="432.5" font-size="8.2" text-anchor="middle" fill="#383838" textLength="16.8" lengthAdjust="spacingAndGlyphs">Path</text>
<rect x="140.5" y="461.7" width="40.7" height="32.5" fill="none" stroke="#4a4a4a" stroke-width="1.10"/>
<text x="161.0" y="476.2" font-size="8.2" text-anchor="middle" fill="#383838" textLength="12.6" lengthAdjust="spacingAndGlyphs">NTC</text>
<text x="161.0" y="485.5" font-size="8.2" text-anchor="middle" fill="#383838" textLength="25.2" lengthAdjust="spacingAndGlyphs">Module</text>
<rect x="140.5" y="518.8" width="40.7" height="32.0" fill="none" stroke="#4a4a4a" stroke-width="1.10"/>
<text x="161.0" y="533.1" font-size="8.2" text-anchor="middle" fill="#383838" textLength="33.6" lengthAdjust="spacingAndGlyphs">Internal</text>
<text x="161.0" y="542.5" font-size="8.2" text-anchor="middle" fill="#383838" textLength="21.0" lengthAdjust="spacingAndGlyphs">Power</text>
<rect x="140.5" y="575.6" width="41.2" height="33.0" fill="none" stroke="#4a4a4a" stroke-width="1.10"/>
<text x="161.0" y="590.5" font-size="8.2" text-anchor="middle" fill="#383838" textLength="29.4" lengthAdjust="spacingAndGlyphs">Control</text>
<text x="161.0" y="599.9" font-size="8.2" text-anchor="middle" fill="#383838" textLength="16.8" lengthAdjust="spacingAndGlyphs">Loop</text>
<rect x="197.5" y="364.2" width="40.0" height="171.1" fill="none" stroke="#4a4a4a" stroke-width="1.10"/>
<text x="217.5" y="447.5" font-size="8.2" text-anchor="middle" fill="#383838" textLength="16.8" lengthAdjust="spacingAndGlyphs">Buck</text>
<text x="217.5" y="456.9" font-size="8.2" text-anchor="middle" fill="#383838" textLength="25.2" lengthAdjust="spacingAndGlyphs">Module</text>
<rect x="197.1" y="551.4" width="40.6" height="73.1" fill="none" stroke="#4a4a4a" stroke-width="1.10"/>
<text x="217.5" y="580.9" font-size="8.2" text-anchor="middle" fill="#383838" textLength="16.8" lengthAdjust="spacingAndGlyphs">Fast</text>
<text x="217.5" y="590.4" font-size="8.2" text-anchor="middle" fill="#383838" textLength="25.2" lengthAdjust="spacingAndGlyphs">Charge</text>
<text x="217.5" y="599.9" font-size="8.2" text-anchor="middle" fill="#383838" textLength="33.6" lengthAdjust="spacingAndGlyphs">Protocol</text>
<polyline points="417.0,396.3 400.8,396.3 400.8,410.3" fill="none" stroke="#4a4a4a" stroke-width="1.15"/>
<polygon points="397.2,408.3 404.4,408.3 400.8,411.8" fill="#4a4a4a"/>
<rect x="417.0" y="364.2" width="24.7" height="40.0" fill="none" stroke="#4a4a4a" stroke-width="1.10"/>
<text x="429.3" y="374.9" font-size="8.2" text-anchor="middle" fill="#383838" textLength="10.6" lengthAdjust="spacingAndGlyphs">VIN</text>
<text x="429.3" y="399.2" font-size="8.2" text-anchor="middle" fill="#383838" textLength="10.6" lengthAdjust="spacingAndGlyphs">GND</text>
<text x="429.3" y="411.6" font-size="8.2" text-anchor="middle" fill="#383838" textLength="28.4" lengthAdjust="spacingAndGlyphs">VIN Port</text>
<rect x="571.3" y="437.2" width="25.4" height="57.0" fill="none" stroke="#4a4a4a" stroke-width="1.10"/>
<text x="584.0" y="448.4" font-size="8.2" text-anchor="middle" fill="#383838" textLength="14.2" lengthAdjust="spacingAndGlyphs">VBUS</text>
<text x="584.0" y="456.4" font-size="8.2" text-anchor="middle" fill="#383838" textLength="7.1" lengthAdjust="spacingAndGlyphs">DM</text>
<text x="584.0" y="464.5" font-size="8.2" text-anchor="middle" fill="#383838" textLength="7.1" lengthAdjust="spacingAndGlyphs">DP</text>
<text x="584.0" y="472.7" font-size="8.2" text-anchor="middle" fill="#383838" textLength="10.6" lengthAdjust="spacingAndGlyphs">CC1</text>
<text x="584.0" y="480.9" font-size="8.2" text-anchor="middle" fill="#383838" textLength="10.6" lengthAdjust="spacingAndGlyphs">CC2</text>
<text x="584.0" y="489.1" font-size="8.2" text-anchor="middle" fill="#383838" textLength="10.6" lengthAdjust="spacingAndGlyphs">GND</text>
<text x="583.5" y="501.2" font-size="8.2" text-anchor="middle" fill="#383838" textLength="21.3" lengthAdjust="spacingAndGlyphs">Type-C</text>
<rect x="571.4" y="535.3" width="25.0" height="48.9" fill="none" stroke="#4a4a4a" stroke-width="1.10"/>
<text x="584.0" y="546.2" font-size="8.2" text-anchor="middle" fill="#383838" textLength="14.2" lengthAdjust="spacingAndGlyphs">VBUS</text>
<text x="584.0" y="554.2" font-size="8.2" text-anchor="middle" fill="#383838" textLength="7.1" lengthAdjust="spacingAndGlyphs">DM</text>
<text x="584.0" y="562.2" font-size="8.2" text-anchor="middle" fill="#383838" textLength="7.1" lengthAdjust="spacingAndGlyphs">DP</text>
<text x="584.0" y="570.4" font-size="8.2" text-anchor="middle" fill="#383838" textLength="7.1" lengthAdjust="spacingAndGlyphs">ID</text>
<text x="584.0" y="578.5" font-size="8.2" text-anchor="middle" fill="#383838" textLength="10.6" lengthAdjust="spacingAndGlyphs">GND</text>
<text x="583.5" y="591.4" font-size="8.2" text-anchor="middle" fill="#383838" textLength="21.3" lengthAdjust="spacingAndGlyphs">Type-A</text>
<line x1="75.5" y1="372.2" x2="140.5" y2="372.2" stroke="#4a4a4a" stroke-width="1.15"/>
<circle cx="107.8" cy="372.2" r="2.4" fill="#fff" stroke="#4a4a4a" stroke-width="1"/>
<text x="116.5" y="371.5" font-size="8.2" text-anchor="start" fill="#383838" textLength="10.6" lengthAdjust="spacingAndGlyphs">SCK</text>
<line x1="75.5" y1="380.2" x2="140.5" y2="380.2" stroke="#4a4a4a" stroke-width="1.15"/>
<rect x="105.4" y="377.8" width="4.8" height="4.8" fill="#fff" stroke="#4a4a4a" stroke-width="1"/>
<text x="116.5" y="379.7" font-size="8.2" text-anchor="start" fill="#383838" textLength="10.6" lengthAdjust="spacingAndGlyphs">SDA</text>
<line x1="75.0" y1="412.7" x2="140.5" y2="412.7" stroke="#4a4a4a" stroke-width="1.15"/>
<circle cx="107.8" cy="412.7" r="2.4" fill="#fff" stroke="#4a4a4a" stroke-width="1"/>
<text x="101.5" y="412.0" font-size="8.2" text-anchor="end" fill="#383838" textLength="17.8" lengthAdjust="spacingAndGlyphs">GATEA</text>
<text x="116.5" y="412.0" font-size="8.2" text-anchor="start" fill="#383838" textLength="17.8" lengthAdjust="spacingAndGlyphs">GATEA</text>
<line x1="75.0" y1="421.0" x2="140.5" y2="421.0" stroke="#4a4a4a" stroke-width="1.15"/>
<circle cx="107.8" cy="421.0" r="2.4" fill="#fff" stroke="#4a4a4a" stroke-width="1"/>
<text x="101.5" y="420.3" font-size="8.2" text-anchor="end" fill="#383838" textLength="17.8" lengthAdjust="spacingAndGlyphs">GATEC</text>
<text x="116.5" y="420.3" font-size="8.2" text-anchor="start" fill="#383838" textLength="17.8" lengthAdjust="spacingAndGlyphs">GATEC</text>
<line x1="75.0" y1="429.3" x2="140.5" y2="429.3" stroke="#4a4a4a" stroke-width="1.15"/>
<rect x="105.4" y="426.9" width="4.8" height="4.8" fill="#fff" stroke="#4a4a4a" stroke-width="1"/>
<text x="101.5" y="428.6" font-size="8.2" text-anchor="end" fill="#383838" textLength="17.8" lengthAdjust="spacingAndGlyphs">VBUSA</text>
<text x="116.5" y="428.6" font-size="8.2" text-anchor="start" fill="#383838" textLength="17.8" lengthAdjust="spacingAndGlyphs">VBUSA</text>
<line x1="75.0" y1="437.3" x2="140.5" y2="437.3" stroke="#4a4a4a" stroke-width="1.15"/>
<rect x="105.4" y="434.9" width="4.8" height="4.8" fill="#fff" stroke="#4a4a4a" stroke-width="1"/>
<text x="101.5" y="436.6" font-size="8.2" text-anchor="end" fill="#383838" textLength="17.8" lengthAdjust="spacingAndGlyphs">VBUSC</text>
<text x="116.5" y="436.6" font-size="8.2" text-anchor="start" fill="#383838" textLength="17.8" lengthAdjust="spacingAndGlyphs">VBUSC</text>
<line x1="42.8" y1="478.3" x2="63.0" y2="478.3" stroke="#4a4a4a" stroke-width="1.15"/>
<polyline points="63.0,478.3 64.4,475.7 67.2,480.9 70.0,475.7 72.7,480.9 75.5,475.7 78.3,480.9 79.7,478.3" fill="none" stroke="#4a4a4a" stroke-width="1.00"/>
<line x1="79.7" y1="478.3" x2="140.5" y2="478.3" stroke="#4a4a4a" stroke-width="1.15"/>
<circle cx="107.8" cy="478.3" r="2.4" fill="#fff" stroke="#4a4a4a" stroke-width="1"/>
<text x="116.5" y="477.5" font-size="8.2" text-anchor="start" fill="#383838" textLength="10.6" lengthAdjust="spacingAndGlyphs">NTC</text>
<text x="72.0" y="492.7" font-size="8.2" text-anchor="middle" fill="#383838" textLength="7.1" lengthAdjust="spacingAndGlyphs">2K</text>
<line x1="42.8" y1="478.3" x2="42.8" y2="486.7" stroke="#4a4a4a" stroke-width="1.15"/>
<polyline points="42.8,486.7 45.4,488.0 40.2,490.6 45.4,493.3 40.2,495.9 45.4,498.6 40.2,501.2 42.8,502.5" fill="none" stroke="#4a4a4a" stroke-width="1.00"/>
<line x1="42.8" y1="502.5" x2="42.8" y2="516.0" stroke="#4a4a4a" stroke-width="1.15"/>
<polygon points="39.2,514.0 46.4,514.0 42.8,517.5" fill="#4a4a4a"/>
<text x="26.0" y="497.4" font-size="8.2" text-anchor="middle" fill="#383838" textLength="17.8" lengthAdjust="spacingAndGlyphs">103AT</text>
<line x1="51.2" y1="526.7" x2="140.5" y2="526.7" stroke="#4a4a4a" stroke-width="1.15"/>
<circle cx="107.8" cy="526.7" r="2.4" fill="#fff" stroke="#4a4a4a" stroke-width="1"/>
<text x="95.0" y="525.9" font-size="8.2" text-anchor="end" fill="#383838" textLength="10.6" lengthAdjust="spacingAndGlyphs">VDD</text>
<text x="116.5" y="525.9" font-size="8.2" text-anchor="start" fill="#383838" textLength="10.6" lengthAdjust="spacingAndGlyphs">VDD</text>
<line x1="51.2" y1="526.7" x2="51.2" y2="566.0" stroke="#4a4a4a" stroke-width="1.15"/>
<rect x="49.7" y="538.5" width="3" height="2.0" fill="#fdfdfd"/>
<line x1="45.7" y1="538.0" x2="56.7" y2="538.0" stroke="#4a4a4a" stroke-width="1.05"/>
<line x1="45.7" y1="541.0" x2="56.7" y2="541.0" stroke="#4a4a4a" stroke-width="1.05"/>
<polygon points="47.6,564.0 54.8,564.0 51.2,567.5" fill="#4a4a4a"/>
<text x="37.0" y="542.9" font-size="8.2" text-anchor="middle" fill="#383838" textLength="10.6" lengthAdjust="spacingAndGlyphs">1uF</text>
<line x1="75.4" y1="543.3" x2="140.5" y2="543.3" stroke="#4a4a4a" stroke-width="1.15"/>
<rect x="105.4" y="540.9" width="4.8" height="4.8" fill="#fff" stroke="#4a4a4a" stroke-width="1"/>
<text x="116.5" y="542.5" font-size="8.2" text-anchor="start" fill="#383838" textLength="14.2" lengthAdjust="spacingAndGlyphs">VDRV</text>
<line x1="75.4" y1="543.3" x2="75.4" y2="583.0" stroke="#4a4a4a" stroke-width="1.15"/>
<rect x="73.9" y="554.5" width="3" height="2.0" fill="#fdfdfd"/>
<line x1="69.9" y1="554.0" x2="80.9" y2="554.0" stroke="#4a4a4a" stroke-width="1.05"/>
<line x1="69.9" y1="557.0" x2="80.9" y2="557.0" stroke="#4a4a4a" stroke-width="1.05"/>
<polygon points="71.8,581.0 79.0,581.0 75.4,584.5" fill="#4a4a4a"/>
<text x="88.0" y="558.9" font-size="8.2" text-anchor="middle" fill="#383838" textLength="10.6" lengthAdjust="spacingAndGlyphs">1uF</text>
<line x1="42.7" y1="592.1" x2="140.5" y2="592.1" stroke="#4a4a4a" stroke-width="1.15"/>
<circle cx="107.8" cy="592.1" r="2.4" fill="#fff" stroke="#4a4a4a" stroke-width="1"/>
<text x="116.5" y="591.3" font-size="8.2" text-anchor="start" fill="#383838" textLength="14.2" lengthAdjust="spacingAndGlyphs">COMP</text>
<line x1="42.7" y1="592.1" x2="42.7" y2="641.1" stroke="#4a4a4a" stroke-width="1.15"/>
<line x1="42.7" y1="641.1" x2="75.4" y2="641.1" stroke="#4a4a4a" stroke-width="1.15"/>
<rect x="41.2" y="616.5" width="3" height="2.0" fill="#fdfdfd"/>
<line x1="38.2" y1="616.0" x2="47.2" y2="616.0" stroke="#4a4a4a" stroke-width="1.05"/>
<line x1="38.2" y1="619.0" x2="47.2" y2="619.0" stroke="#4a4a4a" stroke-width="1.05"/>
<text x="29.0" y="619.7" font-size="8.2" text-anchor="middle" fill="#383838" textLength="17.8" lengthAdjust="spacingAndGlyphs">100pF</text>
<line x1="75.4" y1="592.1" x2="75.4" y2="600.6" stroke="#4a4a4a" stroke-width="1.15"/>
<polyline points="75.4,600.6 78.0,601.9 72.8,604.5 78.0,607.1 72.8,609.7 78.0,612.3 72.8,614.9 75.4,616.2" fill="none" stroke="#4a4a4a" stroke-width="1.00"/>
<line x1="75.4" y1="616.2" x2="75.4" y2="656.0" stroke="#4a4a4a" stroke-width="1.15"/>
<rect x="73.9" y="628.6" width="3" height="2.0" fill="#fdfdfd"/>
<line x1="70.9" y1="628.1" x2="79.9" y2="628.1" stroke="#4a4a4a" stroke-width="1.05"/>
<line x1="70.9" y1="631.1" x2="79.9" y2="631.1" stroke="#4a4a4a" stroke-width="1.05"/>
<polygon points="71.8,654.0 79.0,654.0 75.4,657.5" fill="#4a4a4a"/>
<text x="59.0" y="611.5" font-size="8.2" text-anchor="middle" fill="#383838" textLength="10.6" lengthAdjust="spacingAndGlyphs">20K</text>
<text x="58.5" y="632.9" font-size="8.2" text-anchor="middle" fill="#383838" textLength="17.8" lengthAdjust="spacingAndGlyphs">2.2nF</text>
<line x1="237.5" y1="372.2" x2="417.0" y2="372.2" stroke="#4a4a4a" stroke-width="1.15"/>
<circle cx="278.7" cy="372.2" r="2.4" fill="#fff" stroke="#4a4a4a" stroke-width="1"/>
<text x="269.5" y="371.5" font-size="8.2" text-anchor="end" fill="#383838" textLength="10.6" lengthAdjust="spacingAndGlyphs">VIN</text>
<line x1="237.5" y1="404.4" x2="313.3" y2="404.4" stroke="#4a4a4a" stroke-width="1.15"/>
<rect x="276.3" y="401.8" width="4.8" height="4.8" fill="#fff" stroke="#4a4a4a" stroke-width="1"/>
<text x="269.5" y="403.5" font-size="8.2" text-anchor="end" fill="#383838" textLength="17.8" lengthAdjust="spacingAndGlyphs">HGATE</text>
<line x1="237.5" y1="421.2" x2="303.3" y2="421.2" stroke="#4a4a4a" stroke-width="1.15"/>
<rect x="276.3" y="418.8" width="4.8" height="4.8" fill="#fff" stroke="#4a4a4a" stroke-width="1"/>
<text x="269.5" y="420.5" font-size="8.2" text-anchor="end" fill="#383838" textLength="10.6" lengthAdjust="spacingAndGlyphs">BST</text>
<line x1="303.3" y1="421.2" x2="303.3" y2="445.3" stroke="#4a4a4a" stroke-width="1.15"/>
<rect x="301.8" y="432.3" width="3" height="2.0" fill="#fdfdfd"/>
<line x1="298.3" y1="431.8" x2="308.3" y2="431.8" stroke="#4a4a4a" stroke-width="1.05"/>
<line x1="298.3" y1="434.8" x2="308.3" y2="434.8" stroke="#4a4a4a" stroke-width="1.05"/>
<text x="289.0" y="436.7" font-size="8.2" text-anchor="middle" fill="#383838" textLength="17.8" lengthAdjust="spacingAndGlyphs">0.1uF</text>
<line x1="237.5" y1="445.3" x2="335.8" y2="445.3" stroke="#4a4a4a" stroke-width="1.15"/>
<rect x="276.3" y="442.9" width="4.8" height="4.8" fill="#fff" stroke="#4a4a4a" stroke-width="1"/>
<text x="269.5" y="444.6" font-size="8.2" text-anchor="end" fill="#383838" textLength="7.1" lengthAdjust="spacingAndGlyphs">SW</text>
<line x1="237.5" y1="470.4" x2="313.3" y2="470.4" stroke="#4a4a4a" stroke-width="1.15"/>
<circle cx="278.7" cy="470.2" r="2.4" fill="#fff" stroke="#4a4a4a" stroke-width="1"/>
<text x="269.5" y="469.3" font-size="8.2" text-anchor="end" fill="#383838" textLength="17.8" lengthAdjust="spacingAndGlyphs">LGATE</text>
<line x1="237.5" y1="502.2" x2="303.3" y2="502.2" stroke="#4a4a4a" stroke-width="1.15"/>
<rect x="276.3" y="499.8" width="4.8" height="4.8" fill="#fff" stroke="#4a4a4a" stroke-width="1"/>
<text x="269.5" y="501.5" font-size="8.2" text-anchor="end" fill="#383838" textLength="14.2" lengthAdjust="spacingAndGlyphs">CSPC</text>
<text x="288.8" y="501.5" font-size="8.2" text-anchor="start" fill="#383838" textLength="14.2" lengthAdjust="spacingAndGlyphs">CSPC</text>
<line x1="237.5" y1="510.3" x2="303.3" y2="510.3" stroke="#4a4a4a" stroke-width="1.15"/>
<circle cx="278.7" cy="510.3" r="2.4" fill="#fff" stroke="#4a4a4a" stroke-width="1"/>
<text x="269.5" y="509.6" font-size="8.2" text-anchor="end" fill="#383838" textLength="14.2" lengthAdjust="spacingAndGlyphs">CSNC</text>
<text x="288.8" y="509.6" font-size="8.2" text-anchor="start" fill="#383838" textLength="14.2" lengthAdjust="spacingAndGlyphs">CSNC</text>
<line x1="237.5" y1="518.7" x2="303.3" y2="518.7" stroke="#4a4a4a" stroke-width="1.15"/>
<circle cx="278.7" cy="518.7" r="2.4" fill="#fff" stroke="#4a4a4a" stroke-width="1"/>
<text x="269.5" y="518.0" font-size="8.2" text-anchor="end" fill="#383838" textLength="14.2" lengthAdjust="spacingAndGlyphs">CSPA</text>
<text x="288.8" y="518.0" font-size="8.2" text-anchor="start" fill="#383838" textLength="14.2" lengthAdjust="spacingAndGlyphs">CSPA</text>
<line x1="237.5" y1="526.7" x2="303.3" y2="526.7" stroke="#4a4a4a" stroke-width="1.15"/>
<circle cx="278.7" cy="526.7" r="2.4" fill="#fff" stroke="#4a4a4a" stroke-width="1"/>
<text x="269.5" y="526.0" font-size="8.2" text-anchor="end" fill="#383838" textLength="14.2" lengthAdjust="spacingAndGlyphs">CSNA</text>
<text x="288.8" y="526.0" font-size="8.2" text-anchor="start" fill="#383838" textLength="14.2" lengthAdjust="spacingAndGlyphs">CSNA</text>
<line x1="319.5" y1="372.2" x2="319.5" y2="394.4" stroke="#4a4a4a" stroke-width="1.15"/>
<line x1="319.5" y1="399.4" x2="319.5" y2="460.0" stroke="#4a4a4a" stroke-width="1.15"/>
<line x1="319.5" y1="465.4" x2="319.5" y2="493.0" stroke="#4a4a4a" stroke-width="1.15"/>
<line x1="313.3" y1="392.9" x2="313.3" y2="405.9" stroke="#4a4a4a" stroke-width="1.10"/>
<line x1="313.3" y1="394.4" x2="319.5" y2="394.4" stroke="#4a4a4a" stroke-width="1.15"/>
<line x1="313.3" y1="399.4" x2="319.5" y2="399.4" stroke="#4a4a4a" stroke-width="1.15"/>
<line x1="313.3" y1="404.4" x2="319.5" y2="404.4" stroke="#4a4a4a" stroke-width="1.15"/>
<polygon points="319.0,399.4 316.0,397.5 316.0,401.3" fill="#4a4a4a"/>
<polygon points="315.9,491.0 323.1,491.0 319.5,494.5" fill="#4a4a4a"/>
<line x1="313.3" y1="458.5" x2="313.3" y2="471.9" stroke="#4a4a4a" stroke-width="1.10"/>
<line x1="313.3" y1="460.0" x2="319.5" y2="460.0" stroke="#4a4a4a" stroke-width="1.15"/>
<line x1="313.3" y1="465.4" x2="319.5" y2="465.4" stroke="#4a4a4a" stroke-width="1.15"/>
<line x1="313.3" y1="470.4" x2="319.5" y2="470.4" stroke="#4a4a4a" stroke-width="1.15"/>
<polygon points="319.0,465.4 316.0,463.5 316.0,467.3" fill="#4a4a4a"/>
<line x1="343.8" y1="372.2" x2="343.8" y2="383.3" stroke="#4a4a4a" stroke-width="1.15"/>
<line x1="338.5" y1="383.3" x2="349.0" y2="383.3" stroke="#4a4a4a" stroke-width="1.30"/>
<path d="M338.3,390.5 Q343.8,385.5 349.3,390.5" fill="none" stroke="#4a4a4a" stroke-width="1.3"/>
<line x1="343.8" y1="387.2" x2="343.8" y2="411.5" stroke="#4a4a4a" stroke-width="1.15"/>
<polygon points="340.2,409.5 347.4,409.5 343.8,413.0" fill="#4a4a4a"/>
<text x="350.0" y="389.9" font-size="8.2" text-anchor="start" fill="#383838" textLength="17.8" lengthAdjust="spacingAndGlyphs">100uF</text>
<line x1="335.3" y1="445.3" x2="335.3" y2="438.5" stroke="#4a4a4a" stroke-width="1.15"/>
<path d="M335.3,438.5 q2.6,-4.5 5.2,0 q2.6,-4.5 5.2,0 q2.6,-4.5 5.2,0 q2.6,-4.5 5.2,0" fill="none" stroke="#4a4a4a" stroke-width="1"/>
<line x1="356.1" y1="438.5" x2="356.1" y2="445.3" stroke="#4a4a4a" stroke-width="1.15"/>
<text x="346.0" y="433.5" font-size="8.2" text-anchor="middle" fill="#383838" textLength="14.2" lengthAdjust="spacingAndGlyphs">22uH</text>
<line x1="356.1" y1="445.3" x2="417.0" y2="445.3" stroke="#4a4a4a" stroke-width="1.15"/>
<text x="391.7" y="444.6" font-size="8.2" text-anchor="middle" fill="#383838" textLength="14.2" lengthAdjust="spacingAndGlyphs">VOUT</text>
<line x1="368.3" y1="445.3" x2="368.3" y2="456.0" stroke="#4a4a4a" stroke-width="1.15"/>
<line x1="363.0" y1="456.0" x2="373.6" y2="456.0" stroke="#4a4a4a" stroke-width="1.30"/>
<path d="M362.8,461.3 Q368.3,456.8 373.8,461.3" fill="none" stroke="#4a4a4a" stroke-width="1.3"/>
<line x1="368.3" y1="458.6" x2="368.3" y2="484.5" stroke="#4a4a4a" stroke-width="1.15"/>
<polygon points="364.7,482.5 371.9,482.5 368.3,486.0" fill="#4a4a4a"/>
<text x="352.0" y="461.2" font-size="8.2" text-anchor="middle" fill="#383838" textLength="17.8" lengthAdjust="spacingAndGlyphs">220uF</text>
<line x1="384.2" y1="445.3" x2="384.2" y2="484.5" stroke="#4a4a4a" stroke-width="1.15"/>
<rect x="382.7" y="457.0" width="3" height="2.0" fill="#fdfdfd"/>
<line x1="378.7" y1="456.5" x2="389.7" y2="456.5" stroke="#4a4a4a" stroke-width="1.05"/>
<line x1="378.7" y1="459.5" x2="389.7" y2="459.5" stroke="#4a4a4a" stroke-width="1.05"/>
<polygon points="380.6,482.5 387.8,482.5 384.2,486.0" fill="#4a4a4a"/>
<text x="397.5" y="461.2" font-size="8.2" text-anchor="middle" fill="#383838" textLength="14.2" lengthAdjust="spacingAndGlyphs">22uF</text>
<line x1="409.2" y1="445.3" x2="417.0" y2="445.3" stroke="#4a4a4a" stroke-width="1.15"/>
<polyline points="417.0,445.3 417.0,429.2 427.9,429.2" fill="none" stroke="#4a4a4a" stroke-width="1.15"/>
<polyline points="430.7,429.2 441.7,429.2 441.7,445.3" fill="none" stroke="#4a4a4a" stroke-width="1.15"/>
<rect x="428.4" y="427.7" width="1.8" height="3" fill="#fdfdfd"/>
<line x1="427.9" y1="424.7" x2="427.9" y2="433.7" stroke="#4a4a4a" stroke-width="1.05"/>
<line x1="430.7" y1="424.7" x2="430.7" y2="433.7" stroke="#4a4a4a" stroke-width="1.05"/>
<line x1="417.0" y1="445.3" x2="421.5" y2="445.3" stroke="#4a4a4a" stroke-width="1.15"/>
<polyline points="421.5,445.3 422.9,442.1 425.8,448.5 428.6,442.1 431.4,448.5 434.2,442.1 437.1,448.5 438.5,445.3" fill="none" stroke="#4a4a4a" stroke-width="1.00"/>
<line x1="438.5" y1="445.3" x2="441.7" y2="445.3" stroke="#4a4a4a" stroke-width="1.15"/>
<text x="429.3" y="421.9" font-size="8.2" text-anchor="middle" fill="#383838" textLength="17.8" lengthAdjust="spacingAndGlyphs">0.1uF</text>
<text x="429.3" y="440.4" font-size="8.2" text-anchor="middle" fill="#383838" textLength="10.6" lengthAdjust="spacingAndGlyphs">Rcs</text>
<text x="429.3" y="455.9" font-size="8.2" text-anchor="middle" fill="#383838" textLength="10.6" lengthAdjust="spacingAndGlyphs">5mΩ</text>
<line x1="409.2" y1="543.3" x2="417.0" y2="543.3" stroke="#4a4a4a" stroke-width="1.15"/>
<polyline points="417.0,543.3 417.0,527.2 427.9,527.2" fill="none" stroke="#4a4a4a" stroke-width="1.15"/>
<polyline points="430.7,527.2 441.7,527.2 441.7,543.3" fill="none" stroke="#4a4a4a" stroke-width="1.15"/>
<rect x="428.4" y="525.7" width="1.8" height="3" fill="#fdfdfd"/>
<line x1="427.9" y1="522.7" x2="427.9" y2="531.7" stroke="#4a4a4a" stroke-width="1.05"/>
<line x1="430.7" y1="522.7" x2="430.7" y2="531.7" stroke="#4a4a4a" stroke-width="1.05"/>
<line x1="417.0" y1="543.3" x2="421.5" y2="543.3" stroke="#4a4a4a" stroke-width="1.15"/>
<polyline points="421.5,543.3 422.9,540.1 425.8,546.5 428.6,540.1 431.4,546.5 434.2,540.1 437.1,546.5 438.5,543.3" fill="none" stroke="#4a4a4a" stroke-width="1.00"/>
<line x1="438.5" y1="543.3" x2="441.7" y2="543.3" stroke="#4a4a4a" stroke-width="1.15"/>
<text x="429.3" y="519.9" font-size="8.2" text-anchor="middle" fill="#383838" textLength="17.8" lengthAdjust="spacingAndGlyphs">0.1uF</text>
<text x="429.3" y="538.4" font-size="8.2" text-anchor="middle" fill="#383838" textLength="10.6" lengthAdjust="spacingAndGlyphs">Rcs</text>
<text x="429.3" y="553.9" font-size="8.2" text-anchor="middle" fill="#383838" textLength="10.6" lengthAdjust="spacingAndGlyphs">5mΩ</text>
<line x1="409.2" y1="445.3" x2="409.2" y2="575.8" stroke="#4a4a4a" stroke-width="1.15"/>
<text x="413.5" y="473.9" font-size="8.2" text-anchor="middle" fill="#383838" textLength="14.2" lengthAdjust="spacingAndGlyphs" transform="rotate(-90 413.5 471.0)">CSPC</text>
<text x="404.3" y="571.4" font-size="8.2" text-anchor="middle" fill="#383838" textLength="14.2" lengthAdjust="spacingAndGlyphs" transform="rotate(-90 404.3 568.5)">CSPA</text>
<line x1="449.7" y1="445.3" x2="449.7" y2="478.3" stroke="#4a4a4a" stroke-width="1.15"/>
<text x="446.0" y="473.9" font-size="8.2" text-anchor="middle" fill="#383838" textLength="14.2" lengthAdjust="spacingAndGlyphs" transform="rotate(-90 446.0 471.0)">CSNC</text>
<line x1="449.7" y1="543.3" x2="449.7" y2="575.8" stroke="#4a4a4a" stroke-width="1.15"/>
<text x="446.0" y="571.4" font-size="8.2" text-anchor="middle" fill="#383838" textLength="14.2" lengthAdjust="spacingAndGlyphs" transform="rotate(-90 446.0 568.5)">CSNA</text>
<line x1="441.7" y1="445.3" x2="571.3" y2="445.3" stroke="#4a4a4a" stroke-width="1.15"/>
<line x1="457.5" y1="445.3" x2="457.5" y2="484.5" stroke="#4a4a4a" stroke-width="1.15"/>
<rect x="456.0" y="456.5" width="3" height="2.0" fill="#fdfdfd"/>
<line x1="452.0" y1="456.0" x2="463.0" y2="456.0" stroke="#4a4a4a" stroke-width="1.05"/>
<line x1="452.0" y1="459.0" x2="463.0" y2="459.0" stroke="#4a4a4a" stroke-width="1.05"/>
<polygon points="453.9,482.5 461.1,482.5 457.5,486.0" fill="#4a4a4a"/>
<text x="471.0" y="460.9" font-size="8.2" text-anchor="middle" fill="#383838" textLength="14.2" lengthAdjust="spacingAndGlyphs">10uF</text>
<line x1="484.5" y1="445.3" x2="504.5" y2="445.3" stroke="#4a4a4a" stroke-width="1.15"/>
<line x1="488.5" y1="445.3" x2="488.5" y2="450.3" stroke="#4a4a4a" stroke-width="1.15"/>
<line x1="500.5" y1="445.3" x2="500.5" y2="450.3" stroke="#4a4a4a" stroke-width="1.15"/>
<line x1="494.5" y1="445.3" x2="494.5" y2="450.3" stroke="#4a4a4a" stroke-width="1.15"/>
<line x1="486.5" y1="450.3" x2="502.5" y2="450.3" stroke="#4a4a4a" stroke-width="1.15"/>
<line x1="486.5" y1="452.3" x2="502.5" y2="452.3" stroke="#4a4a4a" stroke-width="1.15"/>
<polygon points="492.5,446.3 496.5,446.3 494.5,449.3" fill="#4a4a4a"/>
<polyline points="498.7,452.3 498.7,478.3 469.0,478.3" fill="none" stroke="#4a4a4a" stroke-width="1.15"/>
<text x="478.5" y="476.5" font-size="8.2" text-anchor="middle" fill="#383838" textLength="17.8" lengthAdjust="spacingAndGlyphs">GATEA</text>
<line x1="523.0" y1="445.3" x2="523.0" y2="484.5" stroke="#4a4a4a" stroke-width="1.15"/>
<rect x="521.5" y="456.5" width="3" height="2.0" fill="#fdfdfd"/>
<line x1="517.5" y1="456.0" x2="528.5" y2="456.0" stroke="#4a4a4a" stroke-width="1.05"/>
<line x1="517.5" y1="459.0" x2="528.5" y2="459.0" stroke="#4a4a4a" stroke-width="1.05"/>
<polygon points="519.4,482.5 526.6,482.5 523.0,486.0" fill="#4a4a4a"/>
<text x="536.5" y="460.9" font-size="8.2" text-anchor="middle" fill="#383838" textLength="14.2" lengthAdjust="spacingAndGlyphs">10uF</text>
<text x="559.5" y="443.7" font-size="8.2" text-anchor="middle" fill="#383838" textLength="17.8" lengthAdjust="spacingAndGlyphs">VBUSC</text>
<line x1="547.0" y1="453.3" x2="571.3" y2="453.3" stroke="#4a4a4a" stroke-width="1.15"/>
<text x="559.5" y="452.1" font-size="8.2" text-anchor="middle" fill="#383838" textLength="10.6" lengthAdjust="spacingAndGlyphs">DMC</text>
<line x1="547.0" y1="461.5" x2="571.3" y2="461.5" stroke="#4a4a4a" stroke-width="1.15"/>
<text x="559.5" y="460.3" font-size="8.2" text-anchor="middle" fill="#383838" textLength="10.6" lengthAdjust="spacingAndGlyphs">DPC</text>
<line x1="547.0" y1="469.7" x2="571.3" y2="469.7" stroke="#4a4a4a" stroke-width="1.15"/>
<text x="559.5" y="468.5" font-size="8.2" text-anchor="middle" fill="#383838" textLength="10.6" lengthAdjust="spacingAndGlyphs">CC1</text>
<line x1="547.0" y1="478.2" x2="571.3" y2="478.2" stroke="#4a4a4a" stroke-width="1.15"/>
<text x="559.5" y="477.0" font-size="8.2" text-anchor="middle" fill="#383838" textLength="10.6" lengthAdjust="spacingAndGlyphs">CC2</text>
<polyline points="571.3,486.2 555.5,486.2 555.5,501.5" fill="none" stroke="#4a4a4a" stroke-width="1.15"/>
<polygon points="551.9,499.5 559.1,499.5 555.5,503.0" fill="#4a4a4a"/>
<line x1="441.7" y1="543.3" x2="571.4" y2="543.3" stroke="#4a4a4a" stroke-width="1.15"/>
<line x1="457.5" y1="543.3" x2="457.5" y2="582.8" stroke="#4a4a4a" stroke-width="1.15"/>
<rect x="456.0" y="554.5" width="3" height="2.0" fill="#fdfdfd"/>
<line x1="452.0" y1="554.0" x2="463.0" y2="554.0" stroke="#4a4a4a" stroke-width="1.05"/>
<line x1="452.0" y1="557.0" x2="463.0" y2="557.0" stroke="#4a4a4a" stroke-width="1.05"/>
<polygon points="453.9,580.8 461.1,580.8 457.5,584.3" fill="#4a4a4a"/>
<text x="471.0" y="558.9" font-size="8.2" text-anchor="middle" fill="#383838" textLength="14.2" lengthAdjust="spacingAndGlyphs">10uF</text>
<line x1="484.5" y1="543.3" x2="504.5" y2="543.3" stroke="#4a4a4a" stroke-width="1.15"/>
<line x1="488.5" y1="543.3" x2="488.5" y2="548.3" stroke="#4a4a4a" stroke-width="1.15"/>
<line x1="500.5" y1="543.3" x2="500.5" y2="548.3" stroke="#4a4a4a" stroke-width="1.15"/>
<line x1="494.5" y1="543.3" x2="494.5" y2="548.3" stroke="#4a4a4a" stroke-width="1.15"/>
<line x1="486.5" y1="548.3" x2="502.5" y2="548.3" stroke="#4a4a4a" stroke-width="1.15"/>
<line x1="486.5" y1="550.3" x2="502.5" y2="550.3" stroke="#4a4a4a" stroke-width="1.15"/>
<polygon points="492.5,544.3 496.5,544.3 494.5,547.3" fill="#4a4a4a"/>
<polyline points="498.7,550.3 498.7,575.8 469.0,575.8" fill="none" stroke="#4a4a4a" stroke-width="1.15"/>
<text x="478.5" y="574.3" font-size="8.2" text-anchor="middle" fill="#383838" textLength="17.8" lengthAdjust="spacingAndGlyphs">GATEC</text>
<line x1="523.0" y1="543.3" x2="523.0" y2="582.8" stroke="#4a4a4a" stroke-width="1.15"/>
<rect x="521.5" y="554.5" width="3" height="2.0" fill="#fdfdfd"/>
<line x1="517.5" y1="554.0" x2="528.5" y2="554.0" stroke="#4a4a4a" stroke-width="1.05"/>
<line x1="517.5" y1="557.0" x2="528.5" y2="557.0" stroke="#4a4a4a" stroke-width="1.05"/>
<polygon points="519.4,580.8 526.6,580.8 523.0,584.3" fill="#4a4a4a"/>
<text x="536.5" y="558.9" font-size="8.2" text-anchor="middle" fill="#383838" textLength="14.2" lengthAdjust="spacingAndGlyphs">10uF</text>
<text x="559.5" y="541.5" font-size="8.2" text-anchor="middle" fill="#383838" textLength="17.8" lengthAdjust="spacingAndGlyphs">VBUSA</text>
<line x1="547.2" y1="551.4" x2="571.4" y2="551.4" stroke="#4a4a4a" stroke-width="1.15"/>
<text x="559.5" y="550.2" font-size="8.2" text-anchor="middle" fill="#383838" textLength="10.6" lengthAdjust="spacingAndGlyphs">DMA</text>
<line x1="547.2" y1="559.4" x2="571.4" y2="559.4" stroke="#4a4a4a" stroke-width="1.15"/>
<text x="559.5" y="558.2" font-size="8.2" text-anchor="middle" fill="#383838" textLength="10.6" lengthAdjust="spacingAndGlyphs">DPA</text>
<line x1="547.2" y1="567.8" x2="571.4" y2="567.8" stroke="#4a4a4a" stroke-width="1.15"/>
<text x="559.5" y="566.6" font-size="8.2" text-anchor="middle" fill="#383838" textLength="10.6" lengthAdjust="spacingAndGlyphs">IDA</text>
<polyline points="571.4,575.8 547.6,575.8 547.6,590.5" fill="none" stroke="#4a4a4a" stroke-width="1.15"/>
<polygon points="544.0,588.5 551.2,588.5 547.6,592.0" fill="#4a4a4a"/>
<line x1="237.7" y1="559.3" x2="278.7" y2="559.3" stroke="#4a4a4a" stroke-width="1.15"/>
<text x="270.0" y="558.6" font-size="8.2" text-anchor="end" fill="#383838" textLength="10.6" lengthAdjust="spacingAndGlyphs">CC1</text>
<line x1="237.7" y1="567.4" x2="278.7" y2="567.4" stroke="#4a4a4a" stroke-width="1.15"/>
<text x="270.0" y="566.7" font-size="8.2" text-anchor="end" fill="#383838" textLength="10.6" lengthAdjust="spacingAndGlyphs">CC2</text>
<line x1="237.7" y1="575.7" x2="278.7" y2="575.7" stroke="#4a4a4a" stroke-width="1.15"/>
<text x="270.0" y="575.0" font-size="8.2" text-anchor="end" fill="#383838" textLength="10.6" lengthAdjust="spacingAndGlyphs">DPA</text>
<line x1="237.7" y1="584.0" x2="278.7" y2="584.0" stroke="#4a4a4a" stroke-width="1.15"/>
<text x="270.0" y="583.3" font-size="8.2" text-anchor="end" fill="#383838" textLength="10.6" lengthAdjust="spacingAndGlyphs">DMA</text>
<line x1="237.7" y1="592.3" x2="278.7" y2="592.3" stroke="#4a4a4a" stroke-width="1.15"/>
<text x="270.0" y="591.6" font-size="8.2" text-anchor="end" fill="#383838" textLength="10.6" lengthAdjust="spacingAndGlyphs">IDA</text>
<line x1="237.7" y1="600.5" x2="278.7" y2="600.5" stroke="#4a4a4a" stroke-width="1.15"/>
<text x="270.0" y="599.8" font-size="8.2" text-anchor="end" fill="#383838" textLength="10.6" lengthAdjust="spacingAndGlyphs">DPC</text>
<line x1="237.7" y1="608.6" x2="278.7" y2="608.6" stroke="#4a4a4a" stroke-width="1.15"/>
<text x="270.0" y="607.9" font-size="8.2" text-anchor="end" fill="#383838" textLength="10.6" lengthAdjust="spacingAndGlyphs">DMC</text>
<line x1="237.7" y1="616.7" x2="278.7" y2="616.7" stroke="#4a4a4a" stroke-width="1.15"/>
<text x="270.0" y="616.0" font-size="8.2" text-anchor="end" fill="#383838" textLength="28.4" lengthAdjust="spacingAndGlyphs">IDC/FLED</text>
<text x="285.5" y="558.6" font-size="8.2" text-anchor="start" fill="#383838" textLength="10.6" lengthAdjust="spacingAndGlyphs">CC1</text>
<circle cx="278.7" cy="559.3" r="2.4" fill="#fff" stroke="#4a4a4a" stroke-width="1"/>
<text x="285.5" y="566.7" font-size="8.2" text-anchor="start" fill="#383838" textLength="10.6" lengthAdjust="spacingAndGlyphs">CC2</text>
<circle cx="278.7" cy="567.4" r="2.4" fill="#fff" stroke="#4a4a4a" stroke-width="1"/>
<line x1="278.7" y1="575.7" x2="303.0" y2="575.7" stroke="#4a4a4a" stroke-width="1.15"/>
<text x="285.5" y="575.0" font-size="8.2" text-anchor="start" fill="#383838" textLength="10.6" lengthAdjust="spacingAndGlyphs">DPA</text>
<circle cx="278.7" cy="575.7" r="2.4" fill="#fff" stroke="#4a4a4a" stroke-width="1"/>
<line x1="278.7" y1="584.0" x2="303.0" y2="584.0" stroke="#4a4a4a" stroke-width="1.15"/>
<text x="285.5" y="583.3" font-size="8.2" text-anchor="start" fill="#383838" textLength="10.6" lengthAdjust="spacingAndGlyphs">DMA</text>
<circle cx="278.7" cy="584.0" r="2.4" fill="#fff" stroke="#4a4a4a" stroke-width="1"/>
<text x="285.5" y="591.6" font-size="8.2" text-anchor="start" fill="#383838" textLength="10.6" lengthAdjust="spacingAndGlyphs">IDA</text>
<circle cx="278.7" cy="592.3" r="2.4" fill="#fff" stroke="#4a4a4a" stroke-width="1"/>
<line x1="278.7" y1="600.5" x2="303.0" y2="600.5" stroke="#4a4a4a" stroke-width="1.15"/>
<text x="285.5" y="599.8" font-size="8.2" text-anchor="start" fill="#383838" textLength="10.6" lengthAdjust="spacingAndGlyphs">DPC</text>
<circle cx="278.7" cy="600.5" r="2.4" fill="#fff" stroke="#4a4a4a" stroke-width="1"/>
<line x1="278.7" y1="608.6" x2="303.0" y2="608.6" stroke="#4a4a4a" stroke-width="1.15"/>
<text x="285.5" y="607.9" font-size="8.2" text-anchor="start" fill="#383838" textLength="10.6" lengthAdjust="spacingAndGlyphs">DMC</text>
<rect x="276.3" y="606.2" width="4.8" height="4.8" fill="#fff" stroke="#4a4a4a" stroke-width="1"/>
<rect x="276.3" y="614.3" width="4.8" height="4.8" fill="#fff" stroke="#4a4a4a" stroke-width="1"/>
<line x1="278.7" y1="559.4" x2="322.2" y2="559.4" stroke="#4a4a4a" stroke-width="1.15"/>
<rect x="322.7" y="557.9" width="2.0" height="3" fill="#fdfdfd"/>
<line x1="322.2" y1="554.4" x2="322.2" y2="564.4" stroke="#4a4a4a" stroke-width="1.05"/>
<line x1="325.2" y1="554.4" x2="325.2" y2="564.4" stroke="#4a4a4a" stroke-width="1.05"/>
<line x1="325.2" y1="559.4" x2="387.0" y2="559.4" stroke="#4a4a4a" stroke-width="1.15"/>
<polygon points="384.0,556.1 389.0,559.4 384.0,562.7" fill="#4a4a4a"/>
<line x1="278.7" y1="567.2" x2="346.5" y2="567.2" stroke="#4a4a4a" stroke-width="1.15"/>
<rect x="347.0" y="565.7" width="2.0" height="3" fill="#fdfdfd"/>
<line x1="346.5" y1="562.2" x2="346.5" y2="572.2" stroke="#4a4a4a" stroke-width="1.05"/>
<line x1="349.5" y1="562.2" x2="349.5" y2="572.2" stroke="#4a4a4a" stroke-width="1.05"/>
<line x1="349.5" y1="567.2" x2="370.4" y2="567.2" stroke="#4a4a4a" stroke-width="1.15"/>
<line x1="370.4" y1="567.2" x2="370.4" y2="559.4" stroke="#4a4a4a" stroke-width="1.15"/>
<text x="324.0" y="552.6" font-size="8.2" text-anchor="middle" fill="#383838" textLength="17.8" lengthAdjust="spacingAndGlyphs">330pF</text>
<text x="349.0" y="578.2" font-size="8.2" text-anchor="middle" fill="#383838" textLength="17.8" lengthAdjust="spacingAndGlyphs">330pF</text>
<line x1="278.7" y1="592.3" x2="327.0" y2="592.3" stroke="#4a4a4a" stroke-width="1.15"/>
<polyline points="327.0,592.3 328.3,589.7 331.0,594.9 333.7,589.7 336.3,594.9 339.0,589.7 341.7,594.9 343.0,592.3" fill="none" stroke="#4a4a4a" stroke-width="1.00"/>
<line x1="343.0" y1="592.3" x2="385.0" y2="592.3" stroke="#4a4a4a" stroke-width="1.15"/>
<line x1="385.0" y1="592.3" x2="385.0" y2="649.3" stroke="#4a4a4a" stroke-width="1.15"/>
<text x="335.0" y="587.5" font-size="8.2" text-anchor="middle" fill="#383838" textLength="14.2" lengthAdjust="spacingAndGlyphs">5.1K</text>
<text x="379.0" y="591.1" font-size="8.2" text-anchor="middle" fill="#383838" textLength="10.6" lengthAdjust="spacingAndGlyphs">VDD</text>
<line x1="278.7" y1="616.7" x2="352.0" y2="616.7" stroke="#4a4a4a" stroke-width="1.15"/>
<polyline points="352.0,616.7 353.3,614.1 356.0,619.3 358.7,614.1 361.3,619.3 364.0,614.1 366.7,619.3 368.0,616.7" fill="none" stroke="#4a4a4a" stroke-width="1.00"/>
<line x1="368.0" y1="616.7" x2="385.0" y2="616.7" stroke="#4a4a4a" stroke-width="1.15"/>
<polygon points="328.5,613.5 328.5,619.9 333.5,616.7" fill="#4a4a4a"/>
<line x1="333.5" y1="613.5" x2="333.5" y2="619.9" stroke="#4a4a4a" stroke-width="1.20"/>
<text x="330.5" y="611.2" font-size="8.2" text-anchor="middle" fill="#383838" textLength="14.2" lengthAdjust="spacingAndGlyphs">FLED</text>
<text x="360.0" y="611.2" font-size="8.2" text-anchor="middle" fill="#383838" textLength="7.1" lengthAdjust="spacingAndGlyphs">2K</text>
<line x1="303.5" y1="649.3" x2="352.0" y2="649.3" stroke="#4a4a4a" stroke-width="1.15"/>
<polyline points="352.0,649.3 353.3,646.7 356.0,651.9 358.7,646.7 361.3,651.9 364.0,646.7 366.7,651.9 368.0,649.3" fill="none" stroke="#4a4a4a" stroke-width="1.00"/>
<line x1="368.0" y1="649.3" x2="385.0" y2="649.3" stroke="#4a4a4a" stroke-width="1.15"/>
<polygon points="307.0,646.0 302.0,649.3 307.0,652.6" fill="#4a4a4a"/>
<polygon points="328.5,646.1 328.5,652.5 333.5,649.3" fill="#4a4a4a"/>
<line x1="333.5" y1="646.1" x2="333.5" y2="652.5" stroke="#4a4a4a" stroke-width="1.20"/>
<text x="327.5" y="643.7" font-size="8.2" text-anchor="middle" fill="#383838" textLength="24.8" lengthAdjust="spacingAndGlyphs">PWR_LED</text>
<text x="360.0" y="643.9" font-size="8.2" text-anchor="middle" fill="#383838" textLength="7.1" lengthAdjust="spacingAndGlyphs">2K</text>
<line x1="322.0" y1="619.5" x2="318.0" y2="623.5" stroke="#4a4a4a" stroke-width="1.00"/>
<polygon points="317.5,624.0 320.8,623.0 318.5,620.7" fill="#4a4a4a"/>
<line x1="327.0" y1="624.5" x2="323.0" y2="628.5" stroke="#4a4a4a" stroke-width="1.00"/>
<polygon points="322.5,629.0 325.8,628.0 323.5,625.7" fill="#4a4a4a"/>
<line x1="322.0" y1="651.5" x2="318.0" y2="655.5" stroke="#4a4a4a" stroke-width="1.00"/>
<polygon points="317.5,656.0 320.8,655.0 318.5,652.7" fill="#4a4a4a"/>
<line x1="327.0" y1="656.5" x2="323.0" y2="660.5" stroke="#4a4a4a" stroke-width="1.00"/>
<polygon points="322.5,661.0 325.8,660.0 323.5,657.7" fill="#4a4a4a"/>
<line x1="181.2" y1="641.1" x2="181.2" y2="672.0" stroke="#4a4a4a" stroke-width="1.15"/>
<polygon points="177.6,670.0 184.8,670.0 181.2,673.5" fill="#4a4a4a"/>
<rect x="178.8" y="638.7" width="4.8" height="4.8" fill="#fff" stroke="#4a4a4a" stroke-width="1"/>
<text x="181.2" y="636.4" font-size="8.2" text-anchor="middle" fill="#383838" textLength="14.2" lengthAdjust="spacingAndGlyphs">DGND</text>
<line x1="205.4" y1="641.1" x2="205.4" y2="672.0" stroke="#4a4a4a" stroke-width="1.15"/>
<polygon points="201.8,670.0 209.0,670.0 205.4,673.5" fill="#4a4a4a"/>
<rect x="203.0" y="638.7" width="4.8" height="4.8" fill="#fff" stroke="#4a4a4a" stroke-width="1"/>
<text x="205.4" y="636.4" font-size="8.2" text-anchor="middle" fill="#383838" textLength="14.2" lengthAdjust="spacingAndGlyphs">EPAD</text></svg>
<div class="abs" style="left:293px;top:382px;width:43.7px;height:92.7px;border-radius:7px;background:linear-gradient(90deg,rgba(116,174,53,0.46) 0%,rgba(116,174,53,0.56) 35%,rgba(116,174,53,0.58) 100%);box-shadow:4px 3px 8px rgba(0,0,0,0.12);"></div>
<div class="abs" style="left:469.2px;top:429.2px;width:43.8px;height:138.3px;border-radius:7px;background:linear-gradient(90deg,rgba(116,174,53,0.46) 0%,rgba(116,174,53,0.56) 35%,rgba(116,174,53,0.58) 100%);box-shadow:5px 3px 9px rgba(0,0,0,0.14);"></div>
<div class="abs" style="left:248.2px;top:352.2px;width:147.5px;height:25.5px;border-radius:5px;background:linear-gradient(rgba(150,182,215,0.62),rgba(120,152,190,0.6));box-shadow:1px 2px 3px rgba(0,0,0,0.1);"></div>
<div class="abs" style="left:273px;top:354.5px;font-size:14.6px;color:#fff;line-height:18px;white-space:nowrap;text-shadow:1px 1.5px 1.5px rgba(0,0,30,0.55);-webkit-text-stroke:0.25px #fff;transform:scaleX(0.91);transform-origin:0 0;">DC/DC降压MOS</div>
<div class="abs" style="left:419.2px;top:582px;width:115.5px;height:24.7px;border-radius:5px;background:linear-gradient(rgba(150,182,215,0.62),rgba(120,152,190,0.6));box-shadow:1px 2px 3px rgba(0,0,0,0.1);"></div>
<div class="abs" style="left:430px;top:584.5px;font-size:14.6px;color:#fff;line-height:18px;white-space:nowrap;text-shadow:1px 1.5px 1.5px rgba(0,0,30,0.55);-webkit-text-stroke:0.25px #fff;transform:scaleX(0.9);transform-origin:0 0;">VBUS开关MOS</div>
</body></html>
